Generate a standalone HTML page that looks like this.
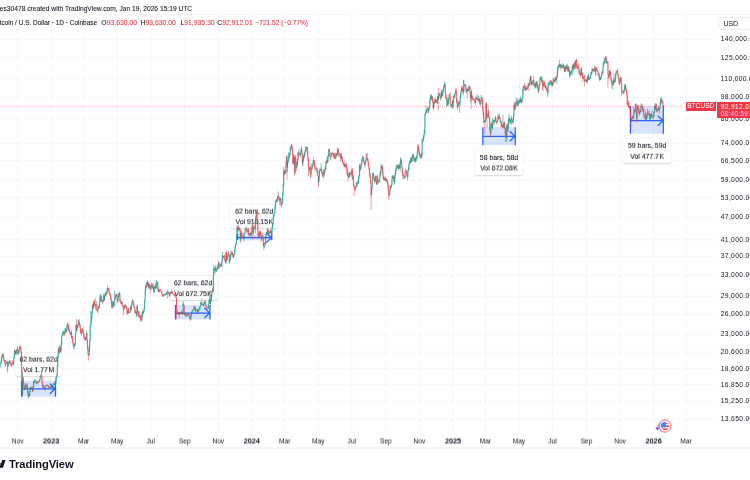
<!DOCTYPE html>
<html><head><meta charset="utf-8"><title>BTCUSD chart</title>
<style>
html,body{margin:0;padding:0;background:#fff;}
body{width:750px;height:480px;overflow:hidden;position:relative;font-family:"Liberation Sans",sans-serif;color:#131722;}
#w{position:absolute;left:0;top:0;width:750px;height:480px;overflow:hidden;filter:blur(0.3px);}
.c{position:absolute;left:0;top:0;width:750px;height:480px;}
.h1{-webkit-text-stroke:0.08px currentColor;position:absolute;left:-0.2px;top:4.4px;font-size:6.68px;line-height:9px;white-space:nowrap;color:#131722;}
.h2{-webkit-text-stroke:0.08px currentColor;position:absolute;top:18px;font-size:6.85px;line-height:9px;white-space:nowrap;color:#131722;}
.h2 i{font-style:normal;color:#f23645;}
.tl{filter:url(#d45);position:absolute;top:436.1px;width:40px;margin-left:-20px;text-align:center;font-size:6.6px;line-height:9px;color:#131722;}
.tl.b{font-weight:bold;font-size:7.3px;-webkit-text-stroke:0;}
.pl{position:absolute;left:720.8px;margin-top:-5.1px;font-size:6.7px;letter-spacing:0.33px;line-height:9px;white-space:nowrap;color:#131722;}
.usd{position:absolute;left:718px;top:17px;width:50px;height:13px;border:0.7px solid #ebedf2;border-radius:2.5px;box-sizing:border-box;font-size:7px;line-height:12px;padding-left:4.4px;color:#131722;}
.lb{position:absolute;background:#fff;border-radius:2.5px;box-shadow:0 0.4px 1.6px rgba(0,0,0,0.16);font-size:6.9px;}
.lt b{display:inline-block;width:0.5px;}
.lt{-webkit-text-stroke:0.08px currentColor;position:absolute;text-align:center;font-size:6.9px;line-height:9px;white-space:nowrap;color:#131722;}
.sym{position:absolute;left:685.5px;top:102.0px;width:30.5px;height:8.8px;background:#f23645;color:#fff;font-size:6.6px;line-height:8.8px;text-align:center;border-radius:1px 0 0 1px;-webkit-text-stroke:0;}
.cur{position:absolute;left:716.5px;top:102.0px;width:40px;height:16px;background:#f23645;color:#fff;font-size:6.7px;letter-spacing:0.33px;line-height:7.2px;padding:0.8px 0 0 4.2px;box-sizing:border-box;border-radius:0 0 0 1px;-webkit-text-stroke:0;}
.cur small{font-size:6.5px;letter-spacing:0.3px;color:rgba(255,255,255,0.75);display:block;}
.logo{position:absolute;left:9px;top:458px;font-size:11.2px;line-height:13px;font-weight:bold;color:#131722;letter-spacing:-0.1px;-webkit-text-stroke:0;}
.sep{position:absolute;left:0;width:750px;height:1.5px;background:#f5f6f8;}
</style></head><body><div id="w">
<svg width="0" height="0" style="position:absolute"><defs>
<filter id="d45" x="-5%" y="-40%" width="110%" height="180%"><feOffset dy="1" result="o"/><feComposite in="SourceGraphic" in2="o" operator="arithmetic" k2="0.55" k3="0.45"/></filter>
<filter id="d70" x="-5%" y="-40%" width="110%" height="180%"><feOffset dy="1" result="o"/><feComposite in="SourceGraphic" in2="o" operator="arithmetic" k2="0.3" k3="0.7"/></filter>
<filter id="d30" x="-5%" y="-40%" width="110%" height="180%"><feOffset dy="1" result="o"/><feComposite in="SourceGraphic" in2="o" operator="arithmetic" k2="0.7" k3="0.3"/></filter>
<filter id="q15" x="-5%" y="-40%" width="110%" height="180%"><feOffset dy="1" result="o"/><feComposite in="SourceGraphic" in2="o" operator="arithmetic" k2="0.85" k3="0.15"/></filter><filter id="q25" x="-5%" y="-40%" width="110%" height="180%"><feOffset dy="1" result="o"/><feComposite in="SourceGraphic" in2="o" operator="arithmetic" k2="0.75" k3="0.25"/></filter><filter id="q45" x="-5%" y="-40%" width="110%" height="180%"><feOffset dy="1" result="o"/><feComposite in="SourceGraphic" in2="o" operator="arithmetic" k2="0.55" k3="0.45"/></filter><filter id="q65" x="-5%" y="-40%" width="110%" height="180%"><feOffset dy="1" result="o"/><feComposite in="SourceGraphic" in2="o" operator="arithmetic" k2="0.35" k3="0.65"/></filter><filter id="q80" x="-5%" y="-40%" width="110%" height="180%"><feOffset dy="1" result="o"/><feComposite in="SourceGraphic" in2="o" operator="arithmetic" k2="0.20" k3="0.80"/></filter><filter id="q85" x="-5%" y="-40%" width="110%" height="180%"><feOffset dy="1" result="o"/><feComposite in="SourceGraphic" in2="o" operator="arithmetic" k2="0.15" k3="0.85"/></filter><filter id="q95" x="-5%" y="-40%" width="110%" height="180%"><feOffset dy="1" result="o"/><feComposite in="SourceGraphic" in2="o" operator="arithmetic" k2="0.05" k3="0.95"/></filter></defs></svg>
<svg class="c" viewBox="0 0 750 480">
<g stroke="#f1f3f7" stroke-width="0.7" fill="none"><path d="M17.7 14.5V432.5"/><path d="M51.2 14.5V432.5"/><path d="M83.6 14.5V432.5"/><path d="M117.2 14.5V432.5"/><path d="M150.7 14.5V432.5"/><path d="M184.8 14.5V432.5"/><path d="M218.3 14.5V432.5"/><path d="M251.8 14.5V432.5"/><path d="M284.8 14.5V432.5"/><path d="M318.3 14.5V432.5"/><path d="M351.8 14.5V432.5"/><path d="M385.9 14.5V432.5"/><path d="M419.4 14.5V432.5"/><path d="M453.0 14.5V432.5"/><path d="M485.4 14.5V432.5"/><path d="M518.9 14.5V432.5"/><path d="M552.4 14.5V432.5"/><path d="M586.5 14.5V432.5"/><path d="M620.0 14.5V432.5"/><path d="M653.6 14.5V432.5"/><path d="M686.0 14.5V432.5"/><path d="M0 39.2H715.5"/><path d="M0 57.7H715.5"/><path d="M0 78.6H715.5"/><path d="M0 97.5H715.5"/><path d="M0 118.8H715.5"/><path d="M0 143.3H715.5"/><path d="M0 160.8H715.5"/><path d="M0 180.3H715.5"/><path d="M0 197.8H715.5"/><path d="M0 217.4H715.5"/><path d="M0 239.7H715.5"/><path d="M0 256.5H715.5"/><path d="M0 275.2H715.5"/><path d="M0 296.2H715.5"/><path d="M0 314.1H715.5"/><path d="M0 334.1H715.5"/><path d="M0 352.1H715.5"/><path d="M0 368.7H715.5"/><path d="M0 384.9H715.5"/><path d="M0 401.2H715.5"/><path d="M0 419.3H715.5"/></g>
<g id="boxes"><rect x="21.5" y="380.8" width="34.0" height="15.9" fill="#2962ff" fill-opacity="0.18"/><path d="M21.5 380.8V396.7M55.5 380.8V396.7M21.5 388.8H55.5M49.9 383.8L55.2 388.8L49.9 393.8" stroke="#2962ff" stroke-width="1.25" fill="none"/><rect x="175.5" y="305" width="34.5" height="14.5" fill="#2962ff" fill-opacity="0.18"/><path d="M175.5 305V319.5M210 305V319.5M175.5 313H210M204.4 308L209.7 313L204.4 318" stroke="#2962ff" stroke-width="1.25" fill="none"/><rect x="237.5" y="233.6" width="34.3" height="6.7" fill="#2962ff" fill-opacity="0.18"/><path d="M237.5 233.6V240.3M271.8 233.6V240.3M237.5 237.7H271.8M266.2 232.7L271.5 237.7L266.2 242.7" stroke="#2962ff" stroke-width="1.25" fill="none"/><rect x="482.8" y="127.2" width="32.5" height="18.1" fill="#2962ff" fill-opacity="0.18"/><path d="M482.8 127.2V145.3M515.3 127.2V145.3M482.8 136.3H515.3M509.69999999999993 131.3L515.0 136.3L509.69999999999993 141.3" stroke="#2962ff" stroke-width="1.25" fill="none"/><rect x="630.4" y="106" width="32.9" height="27.7" fill="#2962ff" fill-opacity="0.18"/><path d="M630.4 106V133.7M663.3 106V133.7M630.4 120.7H663.3M657.6999999999999 115.7L663.0 120.7L657.6999999999999 125.7" stroke="#2962ff" stroke-width="1.25" fill="none"/></g>
</svg>
<div class="lb" style="left:14.7px;top:353.0px;width:47.8px;height:22.9px"></div><div class="lt" style="left:14.7px;width:47.8px;top:354px;filter:url(#q65)">62 bars, 62d</div><div class="lt" style="left:14.7px;width:47.8px;top:365px;filter:url(#q15)">Vol 1.77<b></b>M</div><div class="lb" style="left:168.8px;top:276.3px;width:48.6px;height:23.8px"></div><div class="lt" style="left:168.8px;width:48.6px;top:278px;filter:url(#q25)">62 bars, 62d</div><div class="lt" style="left:168.8px;width:48.6px;top:289px;filter:url(#q15)">Vol 672.75<b></b>K</div><div class="lb" style="left:230.3px;top:205.0px;width:48.0px;height:23.4px"></div><div class="lt" style="left:230.3px;width:48.0px;top:206px;filter:url(#q65)">62 bars, 62d</div><div class="lt" style="left:230.3px;width:48.0px;top:217px;filter:url(#q15)">Vol 918.15<b></b>K</div><div class="lb" style="left:474.7px;top:151.0px;width:48.6px;height:23.6px"></div><div class="lt" style="left:474.7px;width:48.6px;top:152px;filter:url(#q95)">58 bars, 58d</div><div class="lt" style="left:474.7px;width:48.6px;top:163px;filter:url(#q45)">Vol 672.08<b></b>K</div><div class="lb" style="left:623.3px;top:138.8px;width:47.7px;height:24.6px"></div><div class="lt" style="left:623.3px;width:47.7px;top:140px;filter:url(#q85)">59 bars, 59d</div><div class="lt" style="left:623.3px;width:47.7px;top:151px;filter:url(#q80)">Vol 477.7<b></b>K</div>
<svg class="c" viewBox="0 0 750 480" style="pointer-events:none">
<g id="candles"><g fill-opacity="0.82"><path fill="#089981" d="M0.34 361.03h0.6V367.82h-0.6ZM0.08 362.72h1.12V363.53h-1.12ZM0.89 357.43h0.6V363.89h-0.6ZM0.63 360.66h1.12V362.72h-1.12ZM1.44 355.37h0.6V361.05h-0.6ZM1.18 356.60h1.12V360.66h-1.12ZM1.99 353.20h0.6V358.84h-0.6ZM1.73 354.47h1.12V356.60h-1.12Z"/><path fill="#f23645" d="M2.54 354.34h0.6V356.94h-0.6ZM2.28 354.47h1.12V355.09h-1.12ZM3.08 352.88h0.6V358.30h-0.6ZM2.82 355.09h1.12V357.31h-1.12ZM3.63 356.93h0.6V361.10h-0.6ZM3.37 357.31h1.12V361.08h-1.12ZM4.18 360.54h0.6V361.94h-0.6ZM3.92 360.93h1.12V361.53h-1.12ZM4.73 360.21h0.6V366.65h-0.6ZM4.47 361.38h1.12V363.49h-1.12ZM5.28 359.78h0.6V366.15h-0.6ZM5.02 363.44h1.12V364.04h-1.12Z"/><path fill="#089981" d="M5.83 362.07h0.6V364.03h-0.6ZM5.57 363.36h1.12V363.99h-1.12ZM6.38 362.25h0.6V364.30h-0.6ZM6.12 362.34h1.12V363.36h-1.12ZM6.93 361.03h0.6V372.30h-0.6ZM6.67 361.81h1.12V362.41h-1.12Z"/><path fill="#f23645" d="M7.48 360.67h0.6V369.67h-0.6ZM7.22 361.87h1.12V366.04h-1.12Z"/><path fill="#089981" d="M8.03 363.33h0.6V366.86h-0.6ZM7.77 363.62h1.12V366.04h-1.12ZM8.58 361.21h0.6V363.82h-0.6ZM8.32 362.11h1.12V363.62h-1.12ZM9.13 360.32h0.6V363.70h-0.6ZM8.87 360.62h1.12V362.11h-1.12Z"/><path fill="#f23645" d="M9.68 360.59h0.6V364.00h-0.6ZM9.42 360.62h1.12V362.75h-1.12ZM10.23 361.76h0.6V365.38h-0.6ZM9.97 362.75h1.12V365.02h-1.12ZM10.78 362.81h0.6V366.03h-0.6ZM10.52 364.73h1.12V365.33h-1.12Z"/><path fill="#089981" d="M11.33 363.38h0.6V366.43h-0.6ZM11.07 363.99h1.12V365.05h-1.12ZM11.88 361.96h0.6V366.65h-0.6ZM11.62 363.31h1.12V363.99h-1.12Z"/><path fill="#f23645" d="M12.43 360.35h0.6V363.58h-0.6ZM12.17 363.12h1.12V363.72h-1.12Z"/><path fill="#089981" d="M12.98 361.33h0.6V365.55h-0.6ZM12.72 362.29h1.12V363.54h-1.12ZM13.53 356.47h0.6V364.35h-0.6ZM13.27 357.83h1.12V362.29h-1.12ZM14.08 348.76h0.6V358.92h-0.6ZM13.82 350.89h1.12V357.83h-1.12Z"/><path fill="#f23645" d="M14.63 350.12h0.6V353.45h-0.6ZM14.37 350.64h1.12V351.24h-1.12ZM15.18 350.82h0.6V355.32h-0.6ZM14.92 350.99h1.12V353.85h-1.12Z"/><path fill="#089981" d="M15.73 349.90h0.6V354.98h-0.6ZM15.47 350.50h1.12V353.85h-1.12Z"/><path fill="#f23645" d="M16.28 349.05h0.6V353.44h-0.6ZM16.02 350.39h1.12V350.99h-1.12Z"/><path fill="#089981" d="M16.82 348.52h0.6V350.91h-0.6ZM16.56 349.58h1.12V350.87h-1.12Z"/><path fill="#f23645" d="M17.37 345.95h0.6V355.05h-0.6ZM17.11 349.58h1.12V353.03h-1.12Z"/><path fill="#089981" d="M17.92 351.60h0.6V354.07h-0.6ZM17.66 352.17h1.12V353.03h-1.12ZM18.47 349.59h0.6V354.95h-0.6ZM18.21 350.28h1.12V352.17h-1.12ZM19.02 346.72h0.6V352.44h-0.6ZM18.76 347.77h1.12V350.28h-1.12ZM19.57 345.47h0.6V348.65h-0.6ZM19.31 346.62h1.12V347.77h-1.12Z"/><path fill="#f23645" d="M20.12 346.28h0.6V349.57h-0.6ZM19.86 346.62h1.12V348.85h-1.12ZM20.67 346.65h0.6V354.52h-0.6ZM20.41 348.85h1.12V352.08h-1.12ZM21.22 351.68h0.6V381.52h-0.6ZM20.96 352.08h1.12V369.19h-1.12ZM21.77 368.75h0.6V397.46h-0.6ZM21.51 369.19h1.12V394.35h-1.12Z"/><path fill="#089981" d="M22.32 373.20h0.6V395.38h-0.6ZM22.06 377.77h1.12V394.35h-1.12Z"/><path fill="#f23645" d="M22.87 376.70h0.6V383.51h-0.6ZM22.61 377.77h1.12V382.95h-1.12ZM23.42 380.34h0.6V389.01h-0.6ZM23.16 382.95h1.12V385.71h-1.12ZM23.97 385.58h0.6V389.85h-0.6ZM23.71 385.71h1.12V389.79h-1.12Z"/><path fill="#089981" d="M24.52 387.48h0.6V389.89h-0.6ZM24.26 389.28h1.12V389.88h-1.12ZM25.07 382.54h0.6V389.49h-0.6ZM24.81 384.39h1.12V389.37h-1.12Z"/><path fill="#f23645" d="M25.62 383.60h0.6V387.09h-0.6ZM25.36 384.39h1.12V387.03h-1.12Z"/><path fill="#089981" d="M26.17 386.45h0.6V388.48h-0.6ZM25.91 386.68h1.12V387.28h-1.12ZM26.72 383.93h0.6V388.03h-0.6ZM26.46 386.33h1.12V386.93h-1.12Z"/><path fill="#f23645" d="M27.27 383.28h0.6V393.44h-0.6ZM27.01 386.34h1.12V393.12h-1.12ZM27.82 391.83h0.6V397.62h-0.6ZM27.56 393.12h1.12V395.89h-1.12Z"/><path fill="#089981" d="M28.37 390.80h0.6V398.72h-0.6ZM28.11 395.34h1.12V395.94h-1.12Z"/><path fill="#f23645" d="M28.92 393.39h0.6V396.06h-0.6ZM28.66 395.30h1.12V395.90h-1.12Z"/><path fill="#089981" d="M29.47 389.45h0.6V396.99h-0.6ZM29.21 391.85h1.12V395.83h-1.12ZM30.02 387.06h0.6V392.07h-0.6ZM29.76 387.32h1.12V391.85h-1.12Z"/><path fill="#f23645" d="M30.56 387.23h0.6V389.28h-0.6ZM30.30 387.32h1.12V389.24h-1.12Z"/><path fill="#089981" d="M31.11 387.19h0.6V389.31h-0.6ZM30.85 387.73h1.12V389.24h-1.12ZM31.66 385.91h0.6V387.75h-0.6ZM31.40 387.41h1.12V388.01h-1.12Z"/><path fill="#f23645" d="M32.21 387.02h0.6V391.78h-0.6ZM31.95 387.68h1.12V391.30h-1.12Z"/><path fill="#089981" d="M32.76 386.10h0.6V391.41h-0.6ZM32.50 386.56h1.12V391.30h-1.12ZM33.31 380.39h0.6V387.34h-0.6ZM33.05 382.00h1.12V386.56h-1.12ZM33.86 380.82h0.6V383.05h-0.6ZM33.60 381.53h1.12V382.13h-1.12ZM34.41 378.98h0.6V383.06h-0.6ZM34.15 380.75h1.12V381.66h-1.12Z"/><path fill="#f23645" d="M34.96 380.48h0.6V381.55h-0.6ZM34.70 380.62h1.12V381.22h-1.12ZM35.51 379.70h0.6V382.79h-0.6ZM35.25 381.08h1.12V381.68h-1.12ZM36.06 381.23h0.6V384.49h-0.6ZM35.80 381.68h1.12V383.91h-1.12Z"/><path fill="#089981" d="M36.61 381.97h0.6V384.16h-0.6ZM36.35 382.24h1.12V383.91h-1.12ZM37.16 380.97h0.6V383.69h-0.6ZM36.90 381.80h1.12V382.40h-1.12ZM37.71 380.75h0.6V382.08h-0.6ZM37.45 381.44h1.12V382.04h-1.12Z"/><path fill="#f23645" d="M38.26 381.38h0.6V383.34h-0.6ZM38.00 381.46h1.12V382.06h-1.12Z"/><path fill="#089981" d="M38.81 379.89h0.6V382.23h-0.6ZM38.55 380.94h1.12V382.00h-1.12ZM39.36 379.05h0.6V381.16h-0.6ZM39.10 379.39h1.12V380.94h-1.12ZM39.91 375.72h0.6V379.76h-0.6ZM39.65 375.76h1.12V379.39h-1.12Z"/><path fill="#f23645" d="M40.46 374.78h0.6V376.32h-0.6ZM40.20 375.54h1.12V376.14h-1.12Z"/><path fill="#089981" d="M41.01 370.51h0.6V376.83h-0.6ZM40.75 375.62h1.12V376.22h-1.12Z"/><path fill="#f23645" d="M41.56 375.53h0.6V383.24h-0.6ZM41.30 375.92h1.12V382.34h-1.12ZM42.11 381.31h0.6V387.49h-0.6ZM41.85 382.34h1.12V386.83h-1.12Z"/><path fill="#089981" d="M42.66 384.47h0.6V388.20h-0.6ZM42.40 385.88h1.12V386.83h-1.12Z"/><path fill="#f23645" d="M43.21 385.28h0.6V387.46h-0.6ZM42.95 385.60h1.12V386.20h-1.12ZM43.76 385.01h0.6V389.19h-0.6ZM43.50 385.92h1.12V388.80h-1.12ZM44.30 388.48h0.6V389.82h-0.6ZM44.04 388.80h1.12V389.67h-1.12Z"/><path fill="#089981" d="M44.85 387.13h0.6V390.45h-0.6ZM44.59 387.25h1.12V389.67h-1.12ZM45.40 384.98h0.6V388.18h-0.6ZM45.14 386.09h1.12V387.25h-1.12ZM45.95 384.33h0.6V386.50h-0.6ZM45.69 385.36h1.12V386.09h-1.12Z"/><path fill="#f23645" d="M46.50 384.91h0.6V385.67h-0.6ZM46.24 385.08h1.12V385.68h-1.12Z"/><path fill="#089981" d="M47.05 385.10h0.6V385.42h-0.6ZM46.79 385.05h1.12V385.65h-1.12Z"/><path fill="#f23645" d="M47.60 384.80h0.6V386.60h-0.6ZM47.34 385.30h1.12V386.27h-1.12ZM48.15 385.57h0.6V387.72h-0.6ZM47.89 386.27h1.12V387.15h-1.12ZM48.70 387.07h0.6V388.05h-0.6ZM48.44 387.15h1.12V387.81h-1.12Z"/><path fill="#089981" d="M49.25 385.86h0.6V388.25h-0.6ZM48.99 387.01h1.12V387.81h-1.12Z"/><path fill="#f23645" d="M49.80 386.52h0.6V388.18h-0.6ZM49.54 386.86h1.12V387.46h-1.12Z"/><path fill="#089981" d="M50.35 386.44h0.6V387.93h-0.6ZM50.09 386.63h1.12V387.32h-1.12ZM50.90 385.09h0.6V387.39h-0.6ZM50.64 385.92h1.12V386.63h-1.12Z"/><path fill="#f23645" d="M51.45 385.77h0.6V388.80h-0.6ZM51.19 385.92h1.12V387.62h-1.12Z"/><path fill="#089981" d="M52.00 385.56h0.6V388.28h-0.6ZM51.74 386.06h1.12V387.62h-1.12ZM52.55 383.93h0.6V386.56h-0.6ZM52.29 384.88h1.12V386.06h-1.12ZM53.10 383.20h0.6V385.09h-0.6ZM52.84 383.32h1.12V384.88h-1.12Z"/><path fill="#f23645" d="M53.65 383.07h0.6V384.81h-0.6ZM53.39 383.32h1.12V384.62h-1.12Z"/><path fill="#089981" d="M54.20 383.98h0.6V385.12h-0.6ZM53.94 384.20h1.12V384.80h-1.12ZM54.75 382.47h0.6V384.55h-0.6ZM54.49 382.47h1.12V384.39h-1.12ZM55.30 376.92h0.6V384.46h-0.6ZM55.04 381.53h1.12V382.47h-1.12ZM55.85 378.68h0.6V384.59h-0.6ZM55.59 378.73h1.12V381.53h-1.12ZM56.40 374.39h0.6V379.52h-0.6ZM56.14 374.55h1.12V378.73h-1.12ZM56.95 364.76h0.6V376.40h-0.6ZM56.69 366.57h1.12V374.55h-1.12ZM57.50 354.70h0.6V366.84h-0.6ZM57.24 357.31h1.12V366.57h-1.12ZM58.04 347.39h0.6V357.56h-0.6ZM57.78 349.32h1.12V357.31h-1.12Z"/><path fill="#f23645" d="M58.59 348.18h0.6V352.80h-0.6ZM58.33 349.32h1.12V352.17h-1.12Z"/><path fill="#089981" d="M59.14 345.51h0.6V354.04h-0.6ZM58.88 347.39h1.12V352.17h-1.12Z"/><path fill="#f23645" d="M59.69 345.86h0.6V351.05h-0.6ZM59.43 347.39h1.12V348.42h-1.12ZM60.24 346.97h0.6V352.26h-0.6ZM59.98 348.42h1.12V351.28h-1.12Z"/><path fill="#089981" d="M60.79 341.38h0.6V352.39h-0.6ZM60.53 344.18h1.12V351.28h-1.12ZM61.34 335.09h0.6V345.57h-0.6ZM61.08 336.23h1.12V344.18h-1.12ZM61.89 331.62h0.6V336.79h-0.6ZM61.63 335.51h1.12V336.23h-1.12ZM62.44 334.42h0.6V335.80h-0.6ZM62.18 334.88h1.12V335.51h-1.12ZM62.99 331.32h0.6V335.24h-0.6ZM62.73 331.56h1.12V334.88h-1.12Z"/><path fill="#f23645" d="M63.54 330.29h0.6V334.61h-0.6ZM63.28 331.56h1.12V332.97h-1.12ZM64.09 331.81h0.6V336.31h-0.6ZM63.83 332.97h1.12V333.73h-1.12Z"/><path fill="#089981" d="M64.64 328.12h0.6V333.93h-0.6ZM64.38 330.53h1.12V333.73h-1.12ZM65.19 328.11h0.6V333.34h-0.6ZM64.93 329.96h1.12V330.56h-1.12Z"/><path fill="#f23645" d="M65.74 329.42h0.6V331.85h-0.6ZM65.48 329.98h1.12V331.80h-1.12Z"/><path fill="#089981" d="M66.29 326.42h0.6V332.68h-0.6ZM66.03 328.85h1.12V331.80h-1.12ZM66.84 323.60h0.6V330.69h-0.6ZM66.58 324.82h1.12V328.85h-1.12Z"/><path fill="#f23645" d="M67.39 322.14h0.6V327.26h-0.6ZM67.13 324.82h1.12V325.79h-1.12ZM67.94 323.42h0.6V330.08h-0.6ZM67.68 325.79h1.12V329.19h-1.12ZM68.49 325.45h0.6V330.90h-0.6ZM68.23 329.19h1.12V330.57h-1.12ZM69.04 328.38h0.6V333.04h-0.6ZM68.78 330.57h1.12V331.71h-1.12ZM69.59 330.37h0.6V333.82h-0.6ZM69.33 331.71h1.12V332.88h-1.12ZM70.14 332.06h0.6V334.96h-0.6ZM69.88 332.88h1.12V334.44h-1.12Z"/><path fill="#089981" d="M70.69 331.77h0.6V335.39h-0.6ZM70.43 333.11h1.12V334.44h-1.12Z"/><path fill="#f23645" d="M71.24 330.01h0.6V338.69h-0.6ZM70.98 333.11h1.12V338.13h-1.12Z"/><path fill="#089981" d="M71.78 336.37h0.6V338.16h-0.6ZM71.52 337.18h1.12V338.13h-1.12Z"/><path fill="#f23645" d="M72.33 335.68h0.6V343.83h-0.6ZM72.07 337.18h1.12V342.83h-1.12ZM72.88 342.69h0.6V346.60h-0.6ZM72.62 342.83h1.12V346.08h-1.12Z"/><path fill="#089981" d="M73.43 344.66h0.6V348.82h-0.6ZM73.17 345.56h1.12V346.16h-1.12ZM73.98 343.45h0.6V349.16h-0.6ZM73.72 343.88h1.12V345.63h-1.12ZM74.53 342.09h0.6V345.86h-0.6ZM74.27 342.83h1.12V343.88h-1.12ZM75.08 332.71h0.6V345.87h-0.6ZM74.82 333.71h1.12V342.83h-1.12ZM75.63 324.80h0.6V333.90h-0.6ZM75.37 325.11h1.12V333.71h-1.12Z"/><path fill="#f23645" d="M76.18 318.85h0.6V331.03h-0.6ZM75.92 325.11h1.12V330.23h-1.12Z"/><path fill="#089981" d="M76.73 325.91h0.6V331.13h-0.6ZM76.47 328.18h1.12V330.23h-1.12ZM77.28 324.31h0.6V328.52h-0.6ZM77.02 325.02h1.12V328.18h-1.12ZM77.83 323.55h0.6V327.46h-0.6ZM77.57 323.83h1.12V325.02h-1.12ZM78.38 319.69h0.6V324.53h-0.6ZM78.12 321.46h1.12V323.83h-1.12Z"/><path fill="#f23645" d="M78.93 319.17h0.6V325.39h-0.6ZM78.67 321.46h1.12V324.11h-1.12ZM79.48 322.71h0.6V328.09h-0.6ZM79.22 324.11h1.12V326.63h-1.12ZM80.03 324.84h0.6V332.97h-0.6ZM79.77 326.63h1.12V330.65h-1.12ZM80.58 329.08h0.6V334.19h-0.6ZM80.32 330.65h1.12V332.67h-1.12ZM81.13 331.69h0.6V335.44h-0.6ZM80.87 332.48h1.12V333.08h-1.12Z"/><path fill="#089981" d="M81.68 328.09h0.6V333.98h-0.6ZM81.42 329.35h1.12V332.90h-1.12Z"/><path fill="#f23645" d="M82.23 328.77h0.6V330.81h-0.6ZM81.97 329.35h1.12V330.20h-1.12ZM82.78 326.80h0.6V333.42h-0.6ZM82.52 330.20h1.12V333.02h-1.12ZM83.33 330.44h0.6V337.92h-0.6ZM83.07 333.02h1.12V336.38h-1.12ZM83.88 334.34h0.6V339.98h-0.6ZM83.62 336.38h1.12V338.80h-1.12Z"/><path fill="#089981" d="M84.43 337.32h0.6V339.72h-0.6ZM84.17 338.48h1.12V339.08h-1.12Z"/><path fill="#f23645" d="M84.98 336.58h0.6V340.93h-0.6ZM84.72 338.77h1.12V339.48h-1.12Z"/><path fill="#089981" d="M85.52 337.28h0.6V340.02h-0.6ZM85.26 338.30h1.12V339.48h-1.12ZM86.07 330.73h0.6V339.19h-0.6ZM85.81 333.33h1.12V338.30h-1.12Z"/><path fill="#f23645" d="M86.62 332.40h0.6V341.53h-0.6ZM86.36 333.33h1.12V339.86h-1.12ZM87.17 339.00h0.6V350.02h-0.6ZM86.91 339.86h1.12V348.75h-1.12ZM87.72 347.55h0.6V355.85h-0.6ZM87.46 348.75h1.12V354.07h-1.12ZM88.27 354.07h0.6V360.45h-0.6ZM88.01 354.07h1.12V355.28h-1.12Z"/><path fill="#089981" d="M88.82 345.30h0.6V355.57h-0.6ZM88.56 347.55h1.12V355.28h-1.12ZM89.37 338.58h0.6V352.20h-0.6ZM89.11 340.23h1.12V347.55h-1.12ZM89.92 325.49h0.6V342.31h-0.6ZM89.66 325.78h1.12V340.23h-1.12ZM90.47 310.96h0.6V327.37h-0.6ZM90.21 322.12h1.12V325.78h-1.12ZM91.02 315.56h0.6V324.04h-0.6ZM90.76 318.05h1.12V322.12h-1.12ZM91.57 310.40h0.6V319.84h-0.6ZM91.31 311.14h1.12V318.05h-1.12ZM92.12 303.90h0.6V313.77h-0.6ZM91.86 305.21h1.12V311.14h-1.12Z"/><path fill="#f23645" d="M92.67 304.53h0.6V309.88h-0.6ZM92.41 305.21h1.12V307.45h-1.12Z"/><path fill="#089981" d="M93.22 301.79h0.6V308.43h-0.6ZM92.96 301.97h1.12V307.45h-1.12Z"/><path fill="#f23645" d="M93.77 300.17h0.6V305.69h-0.6ZM93.51 301.77h1.12V302.37h-1.12ZM94.32 299.98h0.6V305.37h-0.6ZM94.06 302.16h1.12V304.73h-1.12ZM94.87 297.38h0.6V308.37h-0.6ZM94.61 304.73h1.12V306.11h-1.12Z"/><path fill="#089981" d="M95.42 303.78h0.6V309.67h-0.6ZM95.16 305.54h1.12V306.14h-1.12ZM95.97 301.24h0.6V305.93h-0.6ZM95.71 304.61h1.12V305.57h-1.12Z"/><path fill="#f23645" d="M96.52 304.16h0.6V310.88h-0.6ZM96.26 304.61h1.12V310.62h-1.12ZM97.07 308.93h0.6V312.54h-0.6ZM96.81 310.39h1.12V310.99h-1.12Z"/><path fill="#089981" d="M97.62 306.86h0.6V313.09h-0.6ZM97.36 307.01h1.12V310.76h-1.12Z"/><path fill="#f23645" d="M98.17 305.75h0.6V308.84h-0.6ZM97.91 307.01h1.12V308.04h-1.12Z"/><path fill="#089981" d="M98.72 305.13h0.6V308.49h-0.6ZM98.46 306.19h1.12V308.04h-1.12ZM99.26 295.40h0.6V308.14h-0.6ZM99.00 301.68h1.12V306.19h-1.12ZM99.81 298.79h0.6V302.28h-0.6ZM99.55 299.55h1.12V301.68h-1.12ZM100.36 293.53h0.6V300.24h-0.6ZM100.10 295.76h1.12V299.55h-1.12Z"/><path fill="#f23645" d="M100.91 295.21h0.6V301.84h-0.6ZM100.65 295.76h1.12V300.31h-1.12ZM101.46 298.72h0.6V302.00h-0.6ZM101.20 300.31h1.12V301.34h-1.12ZM102.01 299.67h0.6V303.95h-0.6ZM101.75 301.34h1.12V302.34h-1.12Z"/><path fill="#089981" d="M102.56 300.50h0.6V302.83h-0.6ZM102.30 300.81h1.12V302.34h-1.12ZM103.11 293.33h0.6V301.91h-0.6ZM102.85 296.54h1.12V300.81h-1.12Z"/><path fill="#f23645" d="M103.66 295.10h0.6V300.65h-0.6ZM103.40 296.54h1.12V299.66h-1.12Z"/><path fill="#089981" d="M104.21 293.28h0.6V300.71h-0.6ZM103.95 295.40h1.12V299.66h-1.12Z"/><path fill="#f23645" d="M104.76 295.19h0.6V296.73h-0.6ZM104.50 295.40h1.12V296.10h-1.12Z"/><path fill="#089981" d="M105.31 292.43h0.6V296.70h-0.6ZM105.05 292.63h1.12V296.10h-1.12Z"/><path fill="#f23645" d="M105.86 291.60h0.6V294.71h-0.6ZM105.60 292.63h1.12V294.11h-1.12Z"/><path fill="#089981" d="M106.41 291.52h0.6V294.81h-0.6ZM106.15 292.33h1.12V294.11h-1.12ZM106.96 287.87h0.6V293.06h-0.6ZM106.70 288.55h1.12V292.33h-1.12ZM107.51 285.36h0.6V290.60h-0.6ZM107.25 287.98h1.12V288.58h-1.12Z"/><path fill="#f23645" d="M108.06 287.98h0.6V290.95h-0.6ZM107.80 288.01h1.12V290.76h-1.12ZM108.61 289.83h0.6V293.31h-0.6ZM108.35 290.76h1.12V292.84h-1.12ZM109.16 291.47h0.6V295.37h-0.6ZM108.90 292.84h1.12V293.73h-1.12ZM109.71 292.95h0.6V295.98h-0.6ZM109.45 293.73h1.12V295.33h-1.12ZM110.26 294.32h0.6V299.64h-0.6ZM110.00 295.33h1.12V297.38h-1.12ZM110.81 296.30h0.6V303.67h-0.6ZM110.55 297.38h1.12V301.42h-1.12ZM111.36 300.58h0.6V308.27h-0.6ZM111.10 301.42h1.12V306.41h-1.12ZM111.91 305.17h0.6V308.87h-0.6ZM111.65 306.41h1.12V307.34h-1.12Z"/><path fill="#089981" d="M112.46 300.47h0.6V307.49h-0.6ZM112.20 302.31h1.12V307.34h-1.12Z"/><path fill="#f23645" d="M113.00 302.15h0.6V308.07h-0.6ZM112.74 302.31h1.12V304.92h-1.12Z"/><path fill="#089981" d="M113.55 300.91h0.6V305.45h-0.6ZM113.29 301.13h1.12V304.92h-1.12ZM114.10 290.71h0.6V306.41h-0.6ZM113.84 299.66h1.12V301.13h-1.12ZM114.65 298.07h0.6V299.89h-0.6ZM114.39 298.49h1.12V299.66h-1.12ZM115.20 294.02h0.6V298.91h-0.6ZM114.94 296.19h1.12V298.49h-1.12ZM115.75 294.24h0.6V298.06h-0.6ZM115.49 294.85h1.12V296.19h-1.12Z"/><path fill="#f23645" d="M116.30 293.57h0.6V297.33h-0.6ZM116.04 294.85h1.12V296.00h-1.12ZM116.85 293.68h0.6V303.13h-0.6ZM116.59 296.00h1.12V301.39h-1.12Z"/><path fill="#089981" d="M117.40 299.56h0.6V302.72h-0.6ZM117.14 300.87h1.12V301.47h-1.12ZM117.95 294.02h0.6V301.53h-0.6ZM117.69 296.35h1.12V300.95h-1.12ZM118.50 292.50h0.6V296.99h-0.6ZM118.24 294.84h1.12V296.35h-1.12ZM119.05 291.62h0.6V296.91h-0.6ZM118.79 293.46h1.12V294.84h-1.12Z"/><path fill="#f23645" d="M119.60 293.05h0.6V302.58h-0.6ZM119.34 293.46h1.12V300.12h-1.12ZM120.15 299.13h0.6V302.36h-0.6ZM119.89 300.12h1.12V301.42h-1.12ZM120.70 301.08h0.6V303.80h-0.6ZM120.44 301.42h1.12V303.73h-1.12Z"/><path fill="#089981" d="M121.25 301.21h0.6V304.18h-0.6ZM120.99 301.90h1.12V303.73h-1.12Z"/><path fill="#f23645" d="M121.80 301.88h0.6V305.49h-0.6ZM121.54 301.90h1.12V304.79h-1.12ZM122.35 304.64h0.6V307.34h-0.6ZM122.09 304.79h1.12V305.84h-1.12ZM122.90 305.84h0.6V315.33h-0.6ZM122.64 305.84h1.12V309.12h-1.12Z"/><path fill="#089981" d="M123.45 307.25h0.6V311.58h-0.6ZM123.19 307.88h1.12V309.12h-1.12ZM124.00 304.91h0.6V309.49h-0.6ZM123.74 305.01h1.12V307.88h-1.12Z"/><path fill="#f23645" d="M124.55 304.69h0.6V308.25h-0.6ZM124.29 305.01h1.12V307.01h-1.12Z"/><path fill="#089981" d="M125.10 304.01h0.6V307.95h-0.6ZM124.84 306.10h1.12V307.01h-1.12Z"/><path fill="#f23645" d="M125.65 305.17h0.6V306.81h-0.6ZM125.39 305.91h1.12V306.51h-1.12ZM126.20 306.20h0.6V310.00h-0.6ZM125.94 306.32h1.12V308.82h-1.12ZM126.74 307.45h0.6V314.77h-0.6ZM126.48 308.82h1.12V313.05h-1.12Z"/><path fill="#089981" d="M127.29 310.34h0.6V314.26h-0.6ZM127.03 310.65h1.12V313.05h-1.12Z"/><path fill="#f23645" d="M127.84 307.99h0.6V312.96h-0.6ZM127.58 310.63h1.12V311.23h-1.12ZM128.39 308.08h0.6V314.22h-0.6ZM128.13 311.21h1.12V312.75h-1.12Z"/><path fill="#089981" d="M128.94 312.23h0.6V313.02h-0.6ZM128.68 312.24h1.12V312.84h-1.12ZM129.49 311.69h0.6V312.68h-0.6ZM129.23 311.81h1.12V312.41h-1.12ZM130.04 306.11h0.6V313.23h-0.6ZM129.78 307.85h1.12V311.89h-1.12Z"/><path fill="#f23645" d="M130.59 305.71h0.6V309.71h-0.6ZM130.33 307.85h1.12V308.74h-1.12Z"/><path fill="#089981" d="M131.14 304.34h0.6V310.91h-0.6ZM130.88 305.41h1.12V308.74h-1.12ZM131.69 301.04h0.6V305.74h-0.6ZM131.43 301.39h1.12V305.41h-1.12ZM132.24 299.35h0.6V302.83h-0.6ZM131.98 300.66h1.12V301.39h-1.12Z"/><path fill="#f23645" d="M132.79 299.91h0.6V303.63h-0.6ZM132.53 300.66h1.12V303.13h-1.12ZM133.34 302.20h0.6V307.32h-0.6ZM133.08 303.13h1.12V306.71h-1.12ZM133.89 305.57h0.6V308.46h-0.6ZM133.63 306.71h1.12V307.45h-1.12ZM134.44 307.42h0.6V313.45h-0.6ZM134.18 307.45h1.12V309.96h-1.12ZM134.99 309.82h0.6V313.73h-0.6ZM134.73 309.96h1.12V312.45h-1.12Z"/><path fill="#089981" d="M135.54 310.55h0.6V312.99h-0.6ZM135.28 312.12h1.12V312.72h-1.12Z"/><path fill="#f23645" d="M136.09 311.43h0.6V316.17h-0.6ZM135.83 312.40h1.12V315.65h-1.12Z"/><path fill="#089981" d="M136.64 304.80h0.6V317.13h-0.6ZM136.38 306.41h1.12V315.65h-1.12Z"/><path fill="#f23645" d="M137.19 304.74h0.6V313.22h-0.6ZM136.93 306.41h1.12V311.24h-1.12ZM137.74 310.73h0.6V313.53h-0.6ZM137.48 311.24h1.12V312.33h-1.12ZM138.29 311.28h0.6V317.32h-0.6ZM138.03 312.33h1.12V316.29h-1.12Z"/><path fill="#089981" d="M138.84 310.96h0.6V318.20h-0.6ZM138.58 315.02h1.12V316.29h-1.12Z"/><path fill="#f23645" d="M139.39 314.98h0.6V317.40h-0.6ZM139.13 315.02h1.12V315.86h-1.12ZM139.94 315.03h0.6V319.75h-0.6ZM139.68 315.86h1.12V318.51h-1.12ZM140.48 316.64h0.6V321.48h-0.6ZM140.22 318.51h1.12V319.99h-1.12Z"/><path fill="#089981" d="M141.03 313.76h0.6V321.79h-0.6ZM140.77 319.61h1.12V320.21h-1.12ZM141.58 315.49h0.6V320.58h-0.6ZM141.32 317.08h1.12V319.82h-1.12ZM142.13 309.75h0.6V317.57h-0.6ZM141.87 311.89h1.12V317.08h-1.12Z"/><path fill="#f23645" d="M142.68 310.83h0.6V314.12h-0.6ZM142.42 311.89h1.12V313.18h-1.12Z"/><path fill="#089981" d="M143.23 309.97h0.6V313.24h-0.6ZM142.97 311.59h1.12V313.18h-1.12ZM143.78 308.04h0.6V311.78h-0.6ZM143.52 308.82h1.12V311.59h-1.12ZM144.33 299.81h0.6V309.40h-0.6ZM144.07 300.23h1.12V308.82h-1.12ZM144.88 287.04h0.6V301.15h-0.6ZM144.62 290.71h1.12V300.23h-1.12ZM145.43 284.50h0.6V292.03h-0.6ZM145.17 285.85h1.12V290.71h-1.12Z"/><path fill="#f23645" d="M145.98 283.27h0.6V288.16h-0.6ZM145.72 285.85h1.12V286.95h-1.12Z"/><path fill="#089981" d="M146.53 281.51h0.6V287.52h-0.6ZM146.27 282.01h1.12V286.95h-1.12Z"/><path fill="#f23645" d="M147.08 280.34h0.6V285.02h-0.6ZM146.82 282.01h1.12V284.27h-1.12ZM147.63 282.64h0.6V286.97h-0.6ZM147.37 284.06h1.12V284.66h-1.12ZM148.18 281.41h0.6V289.03h-0.6ZM147.92 284.46h1.12V286.95h-1.12Z"/><path fill="#089981" d="M148.73 283.71h0.6V287.78h-0.6ZM148.47 284.45h1.12V286.95h-1.12Z"/><path fill="#f23645" d="M149.28 284.24h0.6V288.78h-0.6ZM149.02 284.45h1.12V287.96h-1.12ZM149.83 284.05h0.6V293.46h-0.6ZM149.57 287.82h1.12V288.42h-1.12Z"/><path fill="#089981" d="M150.38 285.94h0.6V289.96h-0.6ZM150.12 286.84h1.12V288.28h-1.12ZM150.93 284.82h0.6V290.23h-0.6ZM150.67 284.97h1.12V286.84h-1.12ZM151.48 282.40h0.6V286.90h-0.6ZM151.22 284.47h1.12V285.07h-1.12Z"/><path fill="#f23645" d="M152.03 284.34h0.6V288.66h-0.6ZM151.77 284.57h1.12V287.99h-1.12Z"/><path fill="#089981" d="M152.58 286.93h0.6V288.71h-0.6ZM152.32 287.34h1.12V287.99h-1.12Z"/><path fill="#f23645" d="M153.13 282.75h0.6V291.43h-0.6ZM152.87 287.34h1.12V291.26h-1.12Z"/><path fill="#089981" d="M153.68 289.00h0.6V293.85h-0.6ZM153.42 289.24h1.12V291.26h-1.12ZM154.22 285.92h0.6V292.46h-0.6ZM153.96 286.00h1.12V289.24h-1.12ZM154.77 282.86h0.6V288.94h-0.6ZM154.51 285.64h1.12V286.24h-1.12Z"/><path fill="#f23645" d="M155.32 284.10h0.6V288.77h-0.6ZM155.06 285.89h1.12V288.55h-1.12Z"/><path fill="#089981" d="M155.87 286.94h0.6V288.79h-0.6ZM155.61 287.17h1.12V288.55h-1.12ZM156.42 280.30h0.6V287.28h-0.6ZM156.16 281.54h1.12V287.17h-1.12Z"/><path fill="#f23645" d="M156.97 281.20h0.6V285.82h-0.6ZM156.71 281.54h1.12V283.01h-1.12ZM157.52 282.10h0.6V289.85h-0.6ZM157.26 283.01h1.12V289.09h-1.12ZM158.07 287.67h0.6V292.01h-0.6ZM157.81 289.09h1.12V291.97h-1.12Z"/><path fill="#089981" d="M158.62 290.34h0.6V292.77h-0.6ZM158.36 290.65h1.12V291.97h-1.12ZM159.17 289.06h0.6V292.33h-0.6ZM158.91 289.90h1.12V290.65h-1.12Z"/><path fill="#f23645" d="M159.72 289.48h0.6V290.95h-0.6ZM159.46 289.90h1.12V290.90h-1.12ZM160.27 288.99h0.6V291.01h-0.6ZM160.01 290.64h1.12V291.24h-1.12ZM160.82 290.88h0.6V292.88h-0.6ZM160.56 290.99h1.12V291.80h-1.12ZM161.37 291.70h0.6V293.47h-0.6ZM161.11 291.80h1.12V293.35h-1.12ZM161.92 293.07h0.6V295.78h-0.6ZM161.66 293.35h1.12V295.33h-1.12ZM162.47 294.22h0.6V297.01h-0.6ZM162.21 295.33h1.12V296.26h-1.12Z"/><path fill="#089981" d="M163.02 294.13h0.6V296.52h-0.6ZM162.76 295.40h1.12V296.26h-1.12ZM163.57 294.74h0.6V296.06h-0.6ZM163.31 294.76h1.12V295.40h-1.12ZM164.12 293.79h0.6V295.80h-0.6ZM163.86 294.34h1.12V294.94h-1.12ZM164.67 293.68h0.6V295.32h-0.6ZM164.41 294.01h1.12V294.61h-1.12Z"/><path fill="#f23645" d="M165.22 293.06h0.6V295.27h-0.6ZM164.96 294.03h1.12V294.63h-1.12Z"/><path fill="#089981" d="M165.77 292.40h0.6V295.10h-0.6ZM165.51 293.21h1.12V294.57h-1.12ZM166.32 292.50h0.6V294.19h-0.6ZM166.06 292.83h1.12V293.43h-1.12ZM166.87 290.29h0.6V294.29h-0.6ZM166.61 291.15h1.12V293.06h-1.12Z"/><path fill="#f23645" d="M167.42 291.15h0.6V298.51h-0.6ZM167.16 291.15h1.12V292.35h-1.12Z"/><path fill="#089981" d="M167.96 292.07h0.6V294.23h-0.6ZM167.70 292.04h1.12V292.64h-1.12Z"/><path fill="#f23645" d="M168.51 291.58h0.6V293.80h-0.6ZM168.25 292.32h1.12V293.40h-1.12ZM169.06 292.07h0.6V296.47h-0.6ZM168.80 293.40h1.12V295.97h-1.12Z"/><path fill="#089981" d="M169.61 292.53h0.6V297.36h-0.6ZM169.35 293.41h1.12V295.97h-1.12ZM170.16 291.79h0.6V293.92h-0.6ZM169.90 291.99h1.12V293.41h-1.12Z"/><path fill="#f23645" d="M170.71 291.61h0.6V294.22h-0.6ZM170.45 291.99h1.12V292.81h-1.12Z"/><path fill="#089981" d="M171.26 289.63h0.6V293.62h-0.6ZM171.00 292.08h1.12V292.81h-1.12Z"/><path fill="#f23645" d="M171.81 291.29h0.6V293.90h-0.6ZM171.55 292.05h1.12V292.65h-1.12ZM172.36 291.68h0.6V294.24h-0.6ZM172.10 292.62h1.12V294.02h-1.12Z"/><path fill="#089981" d="M172.91 293.44h0.6V294.61h-0.6ZM172.65 293.72h1.12V294.32h-1.12Z"/><path fill="#f23645" d="M173.46 294.00h0.6V295.26h-0.6ZM173.20 293.90h1.12V294.50h-1.12ZM174.01 293.92h0.6V295.47h-0.6ZM173.75 294.32h1.12V294.92h-1.12ZM174.56 293.43h0.6V297.06h-0.6ZM174.30 294.85h1.12V295.70h-1.12Z"/><path fill="#089981" d="M175.11 295.04h0.6V296.27h-0.6ZM174.85 295.25h1.12V295.85h-1.12Z"/><path fill="#f23645" d="M175.66 294.03h0.6V298.48h-0.6ZM175.40 295.40h1.12V297.94h-1.12ZM176.21 297.66h0.6V319.17h-0.6ZM175.95 297.94h1.12V310.35h-1.12ZM176.76 309.27h0.6V314.42h-0.6ZM176.50 310.35h1.12V313.76h-1.12Z"/><path fill="#089981" d="M177.31 311.48h0.6V313.94h-0.6ZM177.05 312.98h1.12V313.76h-1.12ZM177.86 312.19h0.6V314.24h-0.6ZM177.60 312.41h1.12V313.01h-1.12Z"/><path fill="#f23645" d="M178.41 312.01h0.6V315.18h-0.6ZM178.15 312.45h1.12V314.80h-1.12Z"/><path fill="#089981" d="M178.96 313.45h0.6V318.20h-0.6ZM178.70 313.76h1.12V314.80h-1.12ZM179.51 312.24h0.6V314.64h-0.6ZM179.25 312.47h1.12V313.76h-1.12Z"/><path fill="#f23645" d="M180.06 311.77h0.6V313.51h-0.6ZM179.80 312.44h1.12V313.04h-1.12ZM180.61 312.91h0.6V313.80h-0.6ZM180.35 313.02h1.12V313.76h-1.12Z"/><path fill="#089981" d="M181.16 310.45h0.6V313.97h-0.6ZM180.90 311.68h1.12V313.76h-1.12Z"/><path fill="#f23645" d="M181.70 310.89h0.6V314.99h-0.6ZM181.44 311.68h1.12V313.84h-1.12Z"/><path fill="#089981" d="M182.25 312.74h0.6V313.91h-0.6ZM181.99 313.34h1.12V313.94h-1.12ZM182.80 301.10h0.6V314.84h-0.6ZM182.54 303.73h1.12V313.45h-1.12Z"/><path fill="#f23645" d="M183.35 302.98h0.6V306.79h-0.6ZM183.09 303.73h1.12V306.11h-1.12ZM183.90 305.51h0.6V315.37h-0.6ZM183.64 306.11h1.12V314.39h-1.12Z"/><path fill="#089981" d="M184.45 312.87h0.6V314.57h-0.6ZM184.19 313.02h1.12V314.39h-1.12Z"/><path fill="#f23645" d="M185.00 312.57h0.6V315.96h-0.6ZM184.74 313.02h1.12V315.48h-1.12ZM185.55 314.43h0.6V316.71h-0.6ZM185.29 315.48h1.12V316.09h-1.12Z"/><path fill="#089981" d="M186.10 314.61h0.6V316.82h-0.6ZM185.84 315.33h1.12V316.09h-1.12Z"/><path fill="#f23645" d="M186.65 314.82h0.6V315.57h-0.6ZM186.39 315.08h1.12V315.68h-1.12Z"/><path fill="#089981" d="M187.20 314.58h0.6V316.16h-0.6ZM186.94 314.76h1.12V315.44h-1.12ZM187.75 313.69h0.6V315.59h-0.6ZM187.49 313.70h1.12V314.76h-1.12Z"/><path fill="#f23645" d="M188.30 313.05h0.6V314.80h-0.6ZM188.04 313.70h1.12V314.70h-1.12ZM188.85 314.28h0.6V317.35h-0.6ZM188.59 314.70h1.12V316.79h-1.12ZM189.40 316.40h0.6V318.60h-0.6ZM189.14 316.79h1.12V318.45h-1.12ZM189.95 314.70h0.6V321.13h-0.6ZM189.69 318.45h1.12V319.50h-1.12Z"/><path fill="#089981" d="M190.50 315.74h0.6V320.07h-0.6ZM190.24 316.22h1.12V319.50h-1.12ZM191.05 312.48h0.6V316.75h-0.6ZM190.79 313.12h1.12V316.22h-1.12ZM191.60 310.73h0.6V313.26h-0.6ZM191.34 310.96h1.12V313.12h-1.12ZM192.15 310.16h0.6V312.16h-0.6ZM191.89 310.64h1.12V311.24h-1.12ZM192.70 309.04h0.6V311.73h-0.6ZM192.44 309.46h1.12V310.93h-1.12ZM193.25 307.17h0.6V309.47h-0.6ZM192.99 308.88h1.12V309.48h-1.12Z"/><path fill="#f23645" d="M193.80 305.51h0.6V309.57h-0.6ZM193.54 308.87h1.12V309.47h-1.12Z"/><path fill="#089981" d="M194.35 306.26h0.6V309.64h-0.6ZM194.09 306.71h1.12V309.43h-1.12Z"/><path fill="#f23645" d="M194.90 306.59h0.6V312.10h-0.6ZM194.64 306.71h1.12V310.69h-1.12Z"/><path fill="#089981" d="M195.44 310.13h0.6V312.43h-0.6ZM195.18 310.37h1.12V310.97h-1.12ZM195.99 309.19h0.6V310.88h-0.6ZM195.73 309.66h1.12V310.65h-1.12ZM196.54 309.09h0.6V310.27h-0.6ZM196.28 309.15h1.12V309.75h-1.12Z"/><path fill="#f23645" d="M197.09 308.81h0.6V313.89h-0.6ZM196.83 309.24h1.12V312.51h-1.12Z"/><path fill="#089981" d="M197.64 310.29h0.6V312.55h-0.6ZM197.38 311.57h1.12V312.51h-1.12ZM198.19 309.83h0.6V312.75h-0.6ZM197.93 310.79h1.12V311.57h-1.12ZM198.74 307.20h0.6V311.15h-0.6ZM198.48 308.63h1.12V310.79h-1.12ZM199.29 307.26h0.6V309.05h-0.6ZM199.03 307.91h1.12V308.63h-1.12ZM199.84 305.40h0.6V310.17h-0.6ZM199.58 305.54h1.12V307.91h-1.12ZM200.39 302.00h0.6V305.58h-0.6ZM200.13 302.49h1.12V305.54h-1.12ZM200.94 302.06h0.6V302.52h-0.6ZM200.68 302.08h1.12V302.68h-1.12Z"/><path fill="#f23645" d="M201.49 298.51h0.6V306.24h-0.6ZM201.23 302.27h1.12V304.92h-1.12Z"/><path fill="#089981" d="M202.04 303.26h0.6V305.04h-0.6ZM201.78 304.18h1.12V304.92h-1.12Z"/><path fill="#f23645" d="M202.59 303.99h0.6V304.53h-0.6ZM202.33 303.92h1.12V304.52h-1.12ZM203.14 303.13h0.6V306.82h-0.6ZM202.88 304.26h1.12V305.51h-1.12Z"/><path fill="#089981" d="M203.69 301.96h0.6V305.90h-0.6ZM203.43 303.67h1.12V305.51h-1.12ZM204.24 301.14h0.6V303.73h-0.6ZM203.98 301.28h1.12V303.67h-1.12Z"/><path fill="#f23645" d="M204.79 299.53h0.6V302.84h-0.6ZM204.53 301.28h1.12V302.56h-1.12ZM205.34 302.00h0.6V306.39h-0.6ZM205.08 302.56h1.12V305.33h-1.12ZM205.89 304.66h0.6V307.54h-0.6ZM205.63 305.33h1.12V307.02h-1.12ZM206.44 306.61h0.6V308.84h-0.6ZM206.18 307.02h1.12V308.82h-1.12Z"/><path fill="#089981" d="M206.99 308.11h0.6V309.27h-0.6ZM206.73 308.36h1.12V308.96h-1.12Z"/><path fill="#f23645" d="M207.54 308.44h0.6V308.85h-0.6ZM207.28 308.36h1.12V308.96h-1.12Z"/><path fill="#089981" d="M208.09 303.49h0.6V308.87h-0.6ZM207.83 303.90h1.12V308.82h-1.12ZM208.64 299.98h0.6V304.13h-0.6ZM208.38 300.22h1.12V303.90h-1.12ZM209.18 290.71h0.6V304.05h-0.6ZM208.92 299.09h1.12V300.22h-1.12Z"/><path fill="#f23645" d="M209.73 298.21h0.6V304.12h-0.6ZM209.47 299.09h1.12V303.39h-1.12Z"/><path fill="#089981" d="M210.28 295.89h0.6V305.79h-0.6ZM210.02 299.73h1.12V303.39h-1.12ZM210.83 295.32h0.6V300.92h-0.6ZM210.57 297.94h1.12V299.73h-1.12ZM211.38 291.21h0.6V301.18h-0.6ZM211.12 292.63h1.12V297.94h-1.12ZM211.93 288.27h0.6V293.94h-0.6ZM211.67 290.49h1.12V292.63h-1.12Z"/><path fill="#f23645" d="M212.48 288.50h0.6V292.47h-0.6ZM212.22 290.44h1.12V291.04h-1.12Z"/><path fill="#089981" d="M213.03 268.37h0.6V291.84h-0.6ZM212.77 274.91h1.12V290.98h-1.12ZM213.58 264.62h0.6V275.56h-0.6ZM213.32 270.76h1.12V274.91h-1.12ZM214.13 269.95h0.6V270.86h-0.6ZM213.87 270.39h1.12V270.99h-1.12ZM214.68 266.96h0.6V271.11h-0.6ZM214.42 267.53h1.12V270.63h-1.12Z"/><path fill="#f23645" d="M215.23 265.45h0.6V272.88h-0.6ZM214.97 267.53h1.12V270.76h-1.12ZM215.78 268.07h0.6V271.34h-0.6ZM215.52 270.66h1.12V271.26h-1.12Z"/><path fill="#089981" d="M216.33 268.03h0.6V271.92h-0.6ZM216.07 269.76h1.12V271.16h-1.12ZM216.88 265.73h0.6V270.58h-0.6ZM216.62 266.84h1.12V269.76h-1.12Z"/><path fill="#f23645" d="M217.43 265.55h0.6V268.17h-0.6ZM217.17 266.72h1.12V267.32h-1.12Z"/><path fill="#089981" d="M217.98 261.99h0.6V268.72h-0.6ZM217.72 263.69h1.12V267.19h-1.12Z"/><path fill="#f23645" d="M218.53 260.39h0.6V268.95h-0.6ZM218.27 263.69h1.12V265.36h-1.12ZM219.08 262.30h0.6V268.92h-0.6ZM218.82 265.14h1.12V265.74h-1.12ZM219.63 264.25h0.6V266.45h-0.6ZM219.37 265.39h1.12V265.99h-1.12Z"/><path fill="#089981" d="M220.18 264.53h0.6V267.26h-0.6ZM219.92 265.41h1.12V266.01h-1.12ZM220.73 263.34h0.6V265.60h-0.6ZM220.47 263.54h1.12V265.55h-1.12ZM221.28 261.79h0.6V267.01h-0.6ZM221.02 262.92h1.12V263.54h-1.12ZM221.83 255.52h0.6V266.83h-0.6ZM221.57 259.40h1.12V262.92h-1.12ZM222.38 252.12h0.6V260.55h-0.6ZM222.12 257.81h1.12V259.40h-1.12ZM222.92 256.27h0.6V258.27h-0.6ZM222.66 257.07h1.12V257.81h-1.12ZM223.47 255.46h0.6V257.28h-0.6ZM223.21 255.82h1.12V257.07h-1.12Z"/><path fill="#f23645" d="M224.02 254.42h0.6V258.56h-0.6ZM223.76 255.82h1.12V258.25h-1.12ZM224.57 258.21h0.6V261.52h-0.6ZM224.31 258.25h1.12V260.98h-1.12ZM225.12 259.53h0.6V263.07h-0.6ZM224.86 260.98h1.12V263.00h-1.12Z"/><path fill="#089981" d="M225.67 252.47h0.6V264.03h-0.6ZM225.41 252.55h1.12V263.00h-1.12Z"/><path fill="#f23645" d="M226.22 250.76h0.6V260.99h-0.6ZM225.96 252.55h1.12V260.27h-1.12Z"/><path fill="#089981" d="M226.77 256.38h0.6V261.29h-0.6ZM226.51 258.04h1.12V260.27h-1.12ZM227.32 254.72h0.6V258.87h-0.6ZM227.06 255.34h1.12V258.04h-1.12ZM227.87 253.05h0.6V256.58h-0.6ZM227.61 253.45h1.12V255.34h-1.12Z"/><path fill="#f23645" d="M228.42 250.84h0.6V254.77h-0.6ZM228.16 253.45h1.12V254.50h-1.12ZM228.97 253.42h0.6V262.73h-0.6ZM228.71 254.50h1.12V262.09h-1.12Z"/><path fill="#089981" d="M229.52 259.41h0.6V263.64h-0.6ZM229.26 259.76h1.12V262.09h-1.12ZM230.07 254.53h0.6V259.93h-0.6ZM229.81 255.78h1.12V259.76h-1.12ZM230.62 250.41h0.6V257.82h-0.6ZM230.36 253.42h1.12V255.78h-1.12Z"/><path fill="#f23645" d="M231.17 251.70h0.6V254.80h-0.6ZM230.91 253.38h1.12V253.98h-1.12Z"/><path fill="#089981" d="M231.72 250.75h0.6V254.13h-0.6ZM231.46 252.82h1.12V253.95h-1.12Z"/><path fill="#f23645" d="M232.27 252.22h0.6V255.57h-0.6ZM232.01 252.82h1.12V255.38h-1.12ZM232.82 253.66h0.6V257.55h-0.6ZM232.56 255.38h1.12V257.45h-1.12Z"/><path fill="#089981" d="M233.37 253.85h0.6V258.02h-0.6ZM233.11 254.41h1.12V257.45h-1.12ZM233.92 252.54h0.6V256.27h-0.6ZM233.66 253.88h1.12V254.48h-1.12ZM234.47 246.32h0.6V254.26h-0.6ZM234.21 249.14h1.12V253.96h-1.12ZM235.02 244.52h0.6V250.79h-0.6ZM234.76 244.53h1.12V249.14h-1.12ZM235.57 242.93h0.6V245.46h-0.6ZM235.31 243.94h1.12V244.54h-1.12ZM236.12 235.02h0.6V245.21h-0.6ZM235.86 235.98h1.12V243.96h-1.12ZM236.66 225.08h0.6V236.66h-0.6ZM236.40 228.01h1.12V235.98h-1.12Z"/><path fill="#f23645" d="M237.21 227.26h0.6V232.32h-0.6ZM236.95 228.01h1.12V230.74h-1.12Z"/><path fill="#089981" d="M237.76 224.98h0.6V232.80h-0.6ZM237.50 226.63h1.12V230.74h-1.12Z"/><path fill="#f23645" d="M238.31 225.62h0.6V229.58h-0.6ZM238.05 226.63h1.12V227.64h-1.12ZM238.86 226.96h0.6V231.13h-0.6ZM238.60 227.64h1.12V229.17h-1.12Z"/><path fill="#089981" d="M239.41 227.28h0.6V230.56h-0.6ZM239.15 228.85h1.12V229.45h-1.12Z"/><path fill="#f23645" d="M239.96 228.94h0.6V242.94h-0.6ZM239.70 229.12h1.12V238.93h-1.12Z"/><path fill="#089981" d="M240.51 233.29h0.6V241.02h-0.6ZM240.25 235.69h1.12V238.93h-1.12ZM241.06 230.61h0.6V238.92h-0.6ZM240.80 232.52h1.12V235.69h-1.12Z"/><path fill="#f23645" d="M241.61 231.23h0.6V237.87h-0.6ZM241.35 232.52h1.12V235.96h-1.12ZM242.16 235.39h0.6V238.07h-0.6ZM241.90 235.67h1.12V236.27h-1.12ZM242.71 235.81h0.6V236.54h-0.6ZM242.45 235.79h1.12V236.39h-1.12ZM243.26 236.13h0.6V239.52h-0.6ZM243.00 236.21h1.12V238.33h-1.12Z"/><path fill="#089981" d="M243.81 232.90h0.6V241.72h-0.6ZM243.55 233.28h1.12V238.33h-1.12ZM244.36 232.05h0.6V233.29h-0.6ZM244.10 232.72h1.12V233.32h-1.12ZM244.91 226.40h0.6V233.52h-0.6ZM244.65 229.50h1.12V232.77h-1.12ZM245.46 228.86h0.6V229.85h-0.6ZM245.20 228.95h1.12V229.55h-1.12ZM246.01 227.32h0.6V231.30h-0.6ZM245.75 228.38h1.12V229.01h-1.12Z"/><path fill="#f23645" d="M246.56 228.12h0.6V233.11h-0.6ZM246.30 228.38h1.12V231.27h-1.12ZM247.11 230.32h0.6V231.95h-0.6ZM246.85 231.19h1.12V231.79h-1.12Z"/><path fill="#089981" d="M247.66 229.12h0.6V233.57h-0.6ZM247.40 229.87h1.12V231.72h-1.12Z"/><path fill="#f23645" d="M248.21 227.91h0.6V234.69h-0.6ZM247.95 229.87h1.12V233.85h-1.12ZM248.76 233.61h0.6V237.55h-0.6ZM248.50 233.85h1.12V235.54h-1.12Z"/><path fill="#089981" d="M249.31 233.58h0.6V235.70h-0.6ZM249.05 233.66h1.12V235.54h-1.12ZM249.86 232.77h0.6V234.43h-0.6ZM249.60 233.34h1.12V233.94h-1.12ZM250.40 232.24h0.6V236.47h-0.6ZM250.14 232.75h1.12V233.62h-1.12Z"/><path fill="#f23645" d="M250.95 230.92h0.6V236.16h-0.6ZM250.69 232.75h1.12V234.82h-1.12Z"/><path fill="#089981" d="M251.50 225.88h0.6V234.84h-0.6ZM251.24 227.64h1.12V234.82h-1.12ZM252.05 221.29h0.6V229.49h-0.6ZM251.79 224.71h1.12V227.64h-1.12Z"/><path fill="#f23645" d="M252.60 222.72h0.6V240.52h-0.6ZM252.34 224.71h1.12V232.71h-1.12Z"/><path fill="#089981" d="M253.15 227.33h0.6V233.82h-0.6ZM252.89 228.47h1.12V232.71h-1.12ZM253.70 225.89h0.6V231.70h-0.6ZM253.44 227.64h1.12V228.47h-1.12Z"/><path fill="#f23645" d="M254.25 225.19h0.6V228.76h-0.6ZM253.99 227.64h1.12V228.50h-1.12ZM254.80 226.99h0.6V228.66h-0.6ZM254.54 228.23h1.12V228.83h-1.12Z"/><path fill="#089981" d="M255.35 216.08h0.6V233.02h-0.6ZM255.09 217.60h1.12V228.56h-1.12ZM255.90 212.41h0.6V218.86h-0.6ZM255.64 214.29h1.12V217.60h-1.12Z"/><path fill="#f23645" d="M256.45 210.79h0.6V219.96h-0.6ZM256.19 214.29h1.12V218.65h-1.12ZM257.00 210.62h0.6V221.64h-0.6ZM256.74 218.65h1.12V219.70h-1.12ZM257.55 219.17h0.6V237.74h-0.6ZM257.29 219.70h1.12V232.71h-1.12ZM258.10 231.67h0.6V234.88h-0.6ZM257.84 232.71h1.12V234.87h-1.12ZM258.65 233.10h0.6V237.85h-0.6ZM258.39 234.87h1.12V236.76h-1.12Z"/><path fill="#089981" d="M259.20 231.34h0.6V237.39h-0.6ZM258.94 232.54h1.12V236.76h-1.12ZM259.75 231.25h0.6V234.38h-0.6ZM259.49 231.38h1.12V232.54h-1.12Z"/><path fill="#f23645" d="M260.30 230.56h0.6V236.20h-0.6ZM260.04 231.38h1.12V235.28h-1.12ZM260.85 235.16h0.6V241.64h-0.6ZM260.59 235.28h1.12V238.73h-1.12Z"/><path fill="#089981" d="M261.40 236.51h0.6V240.96h-0.6ZM261.14 237.07h1.12V238.73h-1.12ZM261.95 235.39h0.6V238.36h-0.6ZM261.69 236.32h1.12V237.07h-1.12Z"/><path fill="#f23645" d="M262.50 233.06h0.6V237.88h-0.6ZM262.24 236.32h1.12V237.54h-1.12ZM263.05 237.25h0.6V246.65h-0.6ZM262.79 237.54h1.12V245.80h-1.12Z"/><path fill="#089981" d="M263.60 243.14h0.6V249.99h-0.6ZM263.34 244.16h1.12V245.80h-1.12ZM264.14 242.43h0.6V247.93h-0.6ZM263.88 243.60h1.12V244.20h-1.12Z"/><path fill="#f23645" d="M264.69 242.64h0.6V244.89h-0.6ZM264.43 243.50h1.12V244.10h-1.12Z"/><path fill="#089981" d="M265.24 235.68h0.6V245.76h-0.6ZM264.98 236.57h1.12V243.96h-1.12ZM265.79 233.89h0.6V237.90h-0.6ZM265.53 234.12h1.12V236.57h-1.12ZM266.34 231.65h0.6V234.96h-0.6ZM266.08 232.08h1.12V234.12h-1.12ZM266.89 228.52h0.6V233.74h-0.6ZM266.63 230.81h1.12V232.08h-1.12ZM267.44 228.41h0.6V232.78h-0.6ZM267.18 229.96h1.12V230.81h-1.12Z"/><path fill="#f23645" d="M267.99 229.41h0.6V233.88h-0.6ZM267.73 229.96h1.12V233.66h-1.12Z"/><path fill="#089981" d="M268.54 231.47h0.6V234.61h-0.6ZM268.28 233.21h1.12V233.81h-1.12ZM269.09 231.17h0.6V233.99h-0.6ZM268.83 231.38h1.12V233.35h-1.12Z"/><path fill="#f23645" d="M269.64 230.75h0.6V232.90h-0.6ZM269.38 231.38h1.12V232.43h-1.12Z"/><path fill="#089981" d="M270.19 229.14h0.6V232.73h-0.6ZM269.93 230.80h1.12V232.43h-1.12Z"/><path fill="#f23645" d="M270.74 229.57h0.6V235.11h-0.6ZM270.48 230.80h1.12V233.28h-1.12Z"/><path fill="#089981" d="M271.29 230.70h0.6V234.53h-0.6ZM271.03 231.82h1.12V233.28h-1.12ZM271.84 225.13h0.6V234.06h-0.6ZM271.58 227.08h1.12V231.82h-1.12ZM272.39 222.39h0.6V227.89h-0.6ZM272.13 223.44h1.12V227.08h-1.12ZM272.94 214.55h0.6V225.53h-0.6ZM272.68 217.08h1.12V223.44h-1.12ZM273.49 213.69h0.6V218.54h-0.6ZM273.23 214.21h1.12V217.08h-1.12ZM274.04 211.73h0.6V214.68h-0.6ZM273.78 212.97h1.12V214.21h-1.12ZM274.59 206.32h0.6V213.33h-0.6ZM274.33 207.49h1.12V212.97h-1.12ZM275.14 200.98h0.6V209.17h-0.6ZM274.88 202.97h1.12V207.49h-1.12ZM275.69 200.05h0.6V204.56h-0.6ZM275.43 201.55h1.12V202.97h-1.12ZM276.24 199.17h0.6V202.36h-0.6ZM275.98 199.29h1.12V201.55h-1.12Z"/><path fill="#f23645" d="M276.79 198.34h0.6V202.31h-0.6ZM276.53 199.29h1.12V200.45h-1.12Z"/><path fill="#089981" d="M277.34 195.66h0.6V201.55h-0.6ZM277.08 196.35h1.12V200.45h-1.12Z"/><path fill="#f23645" d="M277.88 191.51h0.6V198.23h-0.6ZM277.62 196.35h1.12V197.40h-1.12Z"/><path fill="#089981" d="M278.43 193.86h0.6V197.75h-0.6ZM278.17 196.64h1.12V197.40h-1.12Z"/><path fill="#f23645" d="M278.98 196.64h0.6V205.06h-0.6ZM278.72 196.64h1.12V200.14h-1.12Z"/><path fill="#089981" d="M279.53 198.21h0.6V201.70h-0.6ZM279.27 199.53h1.12V200.14h-1.12ZM280.08 197.87h0.6V202.12h-0.6ZM279.82 198.51h1.12V199.53h-1.12Z"/><path fill="#f23645" d="M280.63 197.49h0.6V205.84h-0.6ZM280.37 198.51h1.12V204.89h-1.12Z"/><path fill="#089981" d="M281.18 203.51h0.6V207.61h-0.6ZM280.92 204.27h1.12V204.89h-1.12ZM281.73 201.17h0.6V205.14h-0.6ZM281.47 201.87h1.12V204.27h-1.12ZM282.28 191.99h0.6V203.40h-0.6ZM282.02 193.26h1.12V201.87h-1.12ZM282.83 183.77h0.6V195.74h-0.6ZM282.57 185.79h1.12V193.26h-1.12ZM283.38 167.03h0.6V186.68h-0.6ZM283.12 170.90h1.12V185.79h-1.12Z"/><path fill="#f23645" d="M283.93 169.06h0.6V174.66h-0.6ZM283.67 170.90h1.12V174.46h-1.12Z"/><path fill="#089981" d="M284.48 170.49h0.6V174.58h-0.6ZM284.22 173.25h1.12V174.46h-1.12ZM285.03 170.30h0.6V173.84h-0.6ZM284.77 172.21h1.12V173.25h-1.12ZM285.58 162.36h0.6V172.97h-0.6ZM285.32 164.94h1.12V172.21h-1.12ZM286.13 156.08h0.6V165.05h-0.6ZM285.87 156.53h1.12V164.94h-1.12Z"/><path fill="#f23645" d="M286.68 154.28h0.6V179.75h-0.6ZM286.42 156.53h1.12V167.54h-1.12Z"/><path fill="#089981" d="M287.23 159.53h0.6V171.95h-0.6ZM286.97 161.76h1.12V167.54h-1.12ZM287.78 160.90h0.6V163.35h-0.6ZM287.52 160.96h1.12V161.76h-1.12ZM288.33 151.93h0.6V161.68h-0.6ZM288.07 156.41h1.12V160.96h-1.12ZM288.88 152.75h0.6V157.71h-0.6ZM288.62 155.95h1.12V156.55h-1.12ZM289.43 153.72h0.6V157.89h-0.6ZM289.17 154.75h1.12V156.08h-1.12ZM289.98 147.02h0.6V154.99h-0.6ZM289.72 147.57h1.12V154.75h-1.12ZM290.53 146.11h0.6V149.25h-0.6ZM290.27 147.23h1.12V147.83h-1.12ZM291.08 143.77h0.6V148.62h-0.6ZM290.82 145.33h1.12V147.50h-1.12Z"/><path fill="#f23645" d="M291.62 144.34h0.6V149.93h-0.6ZM291.36 145.33h1.12V149.17h-1.12ZM292.17 146.90h0.6V163.00h-0.6ZM291.91 149.17h1.12V153.57h-1.12ZM292.72 153.56h0.6V164.33h-0.6ZM292.46 153.57h1.12V163.75h-1.12Z"/><path fill="#089981" d="M293.27 154.86h0.6V165.11h-0.6ZM293.01 156.17h1.12V163.75h-1.12Z"/><path fill="#f23645" d="M293.82 154.43h0.6V161.66h-0.6ZM293.56 156.17h1.12V161.02h-1.12ZM294.37 156.89h0.6V175.40h-0.6ZM294.11 161.02h1.12V172.34h-1.12Z"/><path fill="#089981" d="M294.92 156.77h0.6V174.15h-0.6ZM294.66 157.49h1.12V172.34h-1.12Z"/><path fill="#f23645" d="M295.47 154.82h0.6V162.90h-0.6ZM295.21 157.49h1.12V161.79h-1.12ZM296.02 161.50h0.6V170.91h-0.6ZM295.76 161.79h1.12V167.54h-1.12Z"/><path fill="#089981" d="M296.57 162.95h0.6V168.07h-0.6ZM296.31 164.60h1.12V167.54h-1.12ZM297.12 159.03h0.6V166.44h-0.6ZM296.86 159.06h1.12V164.60h-1.12ZM297.67 151.84h0.6V161.65h-0.6ZM297.41 152.63h1.12V159.06h-1.12Z"/><path fill="#f23645" d="M298.22 151.23h0.6V159.80h-0.6ZM297.96 152.63h1.12V153.79h-1.12Z"/><path fill="#089981" d="M298.77 148.48h0.6V155.84h-0.6ZM298.51 153.44h1.12V154.04h-1.12Z"/><path fill="#f23645" d="M299.32 153.46h0.6V155.44h-0.6ZM299.06 153.69h1.12V154.77h-1.12ZM299.87 153.23h0.6V156.37h-0.6ZM299.61 154.55h1.12V155.15h-1.12Z"/><path fill="#089981" d="M300.42 150.17h0.6V157.41h-0.6ZM300.16 151.94h1.12V154.94h-1.12ZM300.97 146.11h0.6V152.86h-0.6ZM300.71 149.40h1.12V151.94h-1.12Z"/><path fill="#f23645" d="M301.52 147.55h0.6V154.44h-0.6ZM301.26 149.40h1.12V153.10h-1.12ZM302.07 153.10h0.6V165.76h-0.6ZM301.81 153.10h1.12V163.37h-1.12Z"/><path fill="#089981" d="M302.62 158.71h0.6V166.52h-0.6ZM302.36 159.98h1.12V163.37h-1.12ZM303.17 154.37h0.6V161.90h-0.6ZM302.91 155.94h1.12V159.98h-1.12Z"/><path fill="#f23645" d="M303.72 155.50h0.6V158.45h-0.6ZM303.46 155.78h1.12V156.38h-1.12Z"/><path fill="#089981" d="M304.27 151.82h0.6V157.78h-0.6ZM304.01 152.69h1.12V156.22h-1.12ZM304.82 150.03h0.6V155.79h-0.6ZM304.56 150.07h1.12V152.69h-1.12ZM305.36 146.00h0.6V150.78h-0.6ZM305.10 148.60h1.12V150.07h-1.12ZM305.91 147.17h0.6V151.77h-0.6ZM305.65 148.24h1.12V148.84h-1.12ZM306.46 146.62h0.6V149.30h-0.6ZM306.20 147.05h1.12V148.47h-1.12Z"/><path fill="#f23645" d="M307.01 146.99h0.6V154.34h-0.6ZM306.75 147.05h1.12V152.28h-1.12ZM307.56 150.69h0.6V161.42h-0.6ZM307.30 152.28h1.12V159.18h-1.12ZM308.11 157.37h0.6V175.67h-0.6ZM307.85 159.18h1.12V167.03h-1.12ZM308.66 165.88h0.6V169.84h-0.6ZM308.40 167.03h1.12V169.06h-1.12Z"/><path fill="#089981" d="M309.21 167.27h0.6V171.08h-0.6ZM308.95 168.44h1.12V169.06h-1.12Z"/><path fill="#f23645" d="M309.76 168.29h0.6V173.88h-0.6ZM309.50 168.44h1.12V173.47h-1.12ZM310.31 165.76h0.6V178.38h-0.6ZM310.05 173.47h1.12V174.07h-1.12Z"/><path fill="#089981" d="M310.86 167.07h0.6V177.36h-0.6ZM310.60 168.75h1.12V174.06h-1.12ZM311.41 163.16h0.6V169.07h-0.6ZM311.15 167.41h1.12V168.75h-1.12ZM311.96 165.10h0.6V169.97h-0.6ZM311.70 165.48h1.12V167.41h-1.12ZM312.51 162.13h0.6V166.39h-0.6ZM312.25 163.71h1.12V165.48h-1.12ZM313.06 157.50h0.6V165.16h-0.6ZM312.80 159.92h1.12V163.71h-1.12Z"/><path fill="#f23645" d="M313.61 159.88h0.6V163.48h-0.6ZM313.35 159.92h1.12V162.24h-1.12ZM314.16 160.37h0.6V166.82h-0.6ZM313.90 162.24h1.12V166.26h-1.12ZM314.71 165.29h0.6V170.46h-0.6ZM314.45 166.26h1.12V168.29h-1.12ZM315.26 168.26h0.6V168.71h-0.6ZM315.00 168.08h1.12V168.68h-1.12Z"/><path fill="#089981" d="M315.81 166.02h0.6V174.26h-0.6ZM315.55 168.15h1.12V168.75h-1.12Z"/><path fill="#f23645" d="M316.36 167.30h0.6V170.81h-0.6ZM316.10 168.44h1.12V169.24h-1.12ZM316.91 168.45h0.6V171.91h-0.6ZM316.65 169.24h1.12V171.19h-1.12ZM317.46 170.51h0.6V175.85h-0.6ZM317.20 171.19h1.12V175.80h-1.12ZM318.01 175.40h0.6V187.37h-0.6ZM317.75 175.80h1.12V182.25h-1.12Z"/><path fill="#089981" d="M318.56 176.73h0.6V185.41h-0.6ZM318.30 177.34h1.12V182.25h-1.12ZM319.10 169.41h0.6V179.69h-0.6ZM318.84 169.86h1.12V177.34h-1.12ZM319.65 167.83h0.6V170.11h-0.6ZM319.39 169.54h1.12V170.14h-1.12Z"/><path fill="#f23645" d="M320.20 169.72h0.6V170.94h-0.6ZM319.94 169.82h1.12V170.75h-1.12Z"/><path fill="#089981" d="M320.75 163.25h0.6V171.09h-0.6ZM320.49 169.08h1.12V170.75h-1.12Z"/><path fill="#f23645" d="M321.30 167.54h0.6V173.13h-0.6ZM321.04 169.08h1.12V172.48h-1.12ZM321.85 171.32h0.6V177.34h-0.6ZM321.59 172.48h1.12V174.33h-1.12Z"/><path fill="#089981" d="M322.40 171.51h0.6V175.70h-0.6ZM322.14 173.64h1.12V174.33h-1.12Z"/><path fill="#f23645" d="M322.95 172.87h0.6V177.00h-0.6ZM322.69 173.64h1.12V175.40h-1.12Z"/><path fill="#089981" d="M323.50 169.62h0.6V178.80h-0.6ZM323.24 170.14h1.12V175.40h-1.12Z"/><path fill="#f23645" d="M324.05 168.94h0.6V175.57h-0.6ZM323.79 170.14h1.12V171.79h-1.12Z"/><path fill="#089981" d="M324.60 167.61h0.6V174.00h-0.6ZM324.34 169.73h1.12V171.79h-1.12ZM325.15 165.98h0.6V169.73h-0.6ZM324.89 166.86h1.12V169.73h-1.12ZM325.70 160.88h0.6V169.91h-0.6ZM325.44 161.39h1.12V166.86h-1.12Z"/><path fill="#f23645" d="M326.25 159.99h0.6V163.97h-0.6ZM325.99 161.39h1.12V162.53h-1.12Z"/><path fill="#089981" d="M326.80 156.12h0.6V163.11h-0.6ZM326.54 159.43h1.12V162.53h-1.12ZM327.35 156.78h0.6V162.91h-0.6ZM327.09 158.10h1.12V159.43h-1.12ZM327.90 153.27h0.6V162.30h-0.6ZM327.64 155.84h1.12V158.10h-1.12ZM328.45 148.94h0.6V155.91h-0.6ZM328.19 149.05h1.12V155.84h-1.12Z"/><path fill="#f23645" d="M329.00 147.91h0.6V152.29h-0.6ZM328.74 149.05h1.12V152.05h-1.12ZM329.55 150.88h0.6V157.16h-0.6ZM329.29 152.05h1.12V155.90h-1.12ZM330.10 152.70h0.6V160.28h-0.6ZM329.84 155.90h1.12V157.25h-1.12Z"/><path fill="#089981" d="M330.65 155.44h0.6V157.29h-0.6ZM330.39 155.74h1.12V157.25h-1.12ZM331.20 152.71h0.6V156.43h-0.6ZM330.94 153.75h1.12V155.74h-1.12ZM331.75 152.06h0.6V155.14h-0.6ZM331.49 152.91h1.12V153.75h-1.12Z"/><path fill="#f23645" d="M332.30 152.66h0.6V154.58h-0.6ZM332.04 152.91h1.12V153.80h-1.12Z"/><path fill="#089981" d="M332.84 153.03h0.6V155.45h-0.6ZM332.58 153.27h1.12V153.87h-1.12Z"/><path fill="#f23645" d="M333.39 152.99h0.6V157.54h-0.6ZM333.13 153.34h1.12V157.03h-1.12Z"/><path fill="#089981" d="M333.94 154.45h0.6V159.31h-0.6ZM333.68 154.81h1.12V157.03h-1.12Z"/><path fill="#f23645" d="M334.49 152.61h0.6V159.09h-0.6ZM334.23 154.81h1.12V158.34h-1.12ZM335.04 157.32h0.6V159.02h-0.6ZM334.78 158.13h1.12V158.73h-1.12Z"/><path fill="#089981" d="M335.59 152.52h0.6V158.55h-0.6ZM335.33 153.81h1.12V158.52h-1.12Z"/><path fill="#f23645" d="M336.14 153.36h0.6V156.02h-0.6ZM335.88 153.81h1.12V155.22h-1.12Z"/><path fill="#089981" d="M336.69 152.70h0.6V156.71h-0.6ZM336.43 154.03h1.12V155.22h-1.12ZM337.24 147.66h0.6V155.16h-0.6ZM336.98 149.85h1.12V154.03h-1.12Z"/><path fill="#f23645" d="M337.79 149.12h0.6V151.25h-0.6ZM337.53 149.85h1.12V150.80h-1.12ZM338.34 147.91h0.6V156.98h-0.6ZM338.08 150.80h1.12V153.92h-1.12ZM338.89 152.80h0.6V155.32h-0.6ZM338.63 153.92h1.12V154.98h-1.12ZM339.44 154.04h0.6V156.84h-0.6ZM339.18 154.79h1.12V155.39h-1.12Z"/><path fill="#089981" d="M339.99 152.92h0.6V158.28h-0.6ZM339.73 154.83h1.12V155.43h-1.12Z"/><path fill="#f23645" d="M340.54 153.45h0.6V162.00h-0.6ZM340.28 155.07h1.12V158.82h-1.12Z"/><path fill="#089981" d="M341.09 152.40h0.6V160.04h-0.6ZM340.83 156.53h1.12V158.82h-1.12Z"/><path fill="#f23645" d="M341.64 156.50h0.6V160.02h-0.6ZM341.38 156.53h1.12V159.16h-1.12ZM342.19 158.89h0.6V162.36h-0.6ZM341.93 159.16h1.12V162.00h-1.12ZM342.74 160.74h0.6V165.15h-0.6ZM342.48 162.00h1.12V163.32h-1.12ZM343.29 161.99h0.6V164.84h-0.6ZM343.03 163.32h1.12V163.98h-1.12ZM343.84 163.04h0.6V167.37h-0.6ZM343.58 163.98h1.12V166.45h-1.12Z"/><path fill="#089981" d="M344.39 160.53h0.6V166.90h-0.6ZM344.13 164.12h1.12V166.45h-1.12Z"/><path fill="#f23645" d="M344.94 163.50h0.6V168.53h-0.6ZM344.68 164.12h1.12V166.40h-1.12Z"/><path fill="#089981" d="M345.49 164.91h0.6V166.77h-0.6ZM345.23 165.08h1.12V166.40h-1.12Z"/><path fill="#f23645" d="M346.04 162.21h0.6V168.65h-0.6ZM345.78 165.08h1.12V166.77h-1.12ZM346.58 165.14h0.6V174.43h-0.6ZM346.32 166.77h1.12V173.09h-1.12ZM347.13 172.49h0.6V176.28h-0.6ZM346.87 173.09h1.12V175.72h-1.12ZM347.68 168.69h0.6V181.98h-0.6ZM347.42 175.72h1.12V176.75h-1.12Z"/><path fill="#089981" d="M348.23 172.73h0.6V177.83h-0.6ZM347.97 175.68h1.12V176.75h-1.12Z"/><path fill="#f23645" d="M348.78 173.44h0.6V178.05h-0.6ZM348.52 175.68h1.12V176.35h-1.12Z"/><path fill="#089981" d="M349.33 171.76h0.6V177.64h-0.6ZM349.07 173.13h1.12V176.35h-1.12Z"/><path fill="#f23645" d="M349.88 171.61h0.6V174.56h-0.6ZM349.62 173.13h1.12V174.38h-1.12ZM350.43 173.78h0.6V175.14h-0.6ZM350.17 174.23h1.12V174.83h-1.12Z"/><path fill="#089981" d="M350.98 170.70h0.6V176.59h-0.6ZM350.72 171.83h1.12V174.69h-1.12ZM351.53 168.08h0.6V172.17h-0.6ZM351.27 169.99h1.12V171.83h-1.12Z"/><path fill="#f23645" d="M352.08 168.31h0.6V179.65h-0.6ZM351.82 169.99h1.12V177.16h-1.12Z"/><path fill="#089981" d="M352.63 175.44h0.6V179.68h-0.6ZM352.37 176.79h1.12V177.39h-1.12Z"/><path fill="#f23645" d="M353.18 174.77h0.6V186.72h-0.6ZM352.92 177.02h1.12V185.79h-1.12ZM353.73 184.51h0.6V196.28h-0.6ZM353.47 185.79h1.12V186.94h-1.12ZM354.28 186.47h0.6V189.87h-0.6ZM354.02 186.94h1.12V189.05h-1.12ZM354.83 187.70h0.6V191.26h-0.6ZM354.57 188.78h1.12V189.38h-1.12Z"/><path fill="#089981" d="M355.38 185.61h0.6V189.52h-0.6ZM355.12 186.91h1.12V189.12h-1.12ZM355.93 181.92h0.6V187.82h-0.6ZM355.67 183.13h1.12V186.91h-1.12Z"/><path fill="#f23645" d="M356.48 181.84h0.6V184.55h-0.6ZM356.22 183.13h1.12V183.80h-1.12Z"/><path fill="#089981" d="M357.03 182.26h0.6V186.64h-0.6ZM356.77 183.04h1.12V183.80h-1.12Z"/><path fill="#f23645" d="M357.58 180.58h0.6V183.65h-0.6ZM357.32 182.91h1.12V183.51h-1.12Z"/><path fill="#089981" d="M358.13 176.37h0.6V183.85h-0.6ZM357.87 179.01h1.12V183.38h-1.12ZM358.68 175.28h0.6V179.60h-0.6ZM358.42 175.40h1.12V179.01h-1.12ZM359.23 164.17h0.6V175.95h-0.6ZM358.97 165.13h1.12V175.40h-1.12Z"/><path fill="#f23645" d="M359.78 163.56h0.6V171.03h-0.6ZM359.52 165.13h1.12V169.60h-1.12Z"/><path fill="#089981" d="M360.32 166.42h0.6V170.29h-0.6ZM360.06 166.77h1.12V169.60h-1.12ZM360.87 163.23h0.6V167.95h-0.6ZM360.61 164.05h1.12V166.77h-1.12ZM361.42 158.43h0.6V164.32h-0.6ZM361.16 160.28h1.12V164.05h-1.12ZM361.97 157.51h0.6V162.67h-0.6ZM361.71 158.78h1.12V160.28h-1.12ZM362.52 155.75h0.6V158.82h-0.6ZM362.26 156.77h1.12V158.78h-1.12Z"/><path fill="#f23645" d="M363.07 156.71h0.6V162.39h-0.6ZM362.81 156.77h1.12V160.90h-1.12ZM363.62 158.39h0.6V162.24h-0.6ZM363.36 160.90h1.12V162.13h-1.12ZM364.17 161.64h0.6V165.52h-0.6ZM363.91 162.13h1.12V164.10h-1.12Z"/><path fill="#089981" d="M364.72 161.76h0.6V168.57h-0.6ZM364.46 162.50h1.12V164.10h-1.12ZM365.27 159.77h0.6V164.82h-0.6ZM365.01 160.14h1.12V162.50h-1.12ZM365.82 153.80h0.6V161.08h-0.6ZM365.56 157.37h1.12V160.14h-1.12Z"/><path fill="#f23645" d="M366.37 153.76h0.6V157.83h-0.6ZM366.11 157.30h1.12V157.90h-1.12ZM366.92 152.40h0.6V160.62h-0.6ZM366.66 157.83h1.12V160.04h-1.12ZM367.47 158.45h0.6V161.98h-0.6ZM367.21 160.04h1.12V161.93h-1.12ZM368.02 158.77h0.6V165.65h-0.6ZM367.76 161.93h1.12V165.50h-1.12ZM368.57 164.78h0.6V170.23h-0.6ZM368.31 165.50h1.12V168.54h-1.12ZM369.12 167.95h0.6V176.04h-0.6ZM368.86 168.54h1.12V173.66h-1.12ZM369.67 172.56h0.6V177.93h-0.6ZM369.41 173.66h1.12V177.71h-1.12ZM370.22 174.55h0.6V183.97h-0.6ZM369.96 177.71h1.12V182.68h-1.12ZM370.77 182.25h0.6V210.62h-0.6ZM370.51 182.68h1.12V194.76h-1.12Z"/><path fill="#089981" d="M371.32 187.80h0.6V196.60h-0.6ZM371.06 188.68h1.12V194.76h-1.12ZM371.87 179.65h0.6V189.48h-0.6ZM371.61 180.53h1.12V188.68h-1.12ZM372.42 172.62h0.6V180.57h-0.6ZM372.16 173.00h1.12V180.53h-1.12Z"/><path fill="#f23645" d="M372.97 172.50h0.6V177.94h-0.6ZM372.71 173.00h1.12V177.03h-1.12ZM373.52 174.12h0.6V179.52h-0.6ZM373.26 177.03h1.12V179.37h-1.12ZM374.06 177.26h0.6V183.53h-0.6ZM373.80 179.37h1.12V181.14h-1.12Z"/><path fill="#089981" d="M374.61 180.08h0.6V182.38h-0.6ZM374.35 180.54h1.12V181.14h-1.12ZM375.16 175.59h0.6V182.03h-0.6ZM374.90 175.94h1.12V180.54h-1.12Z"/><path fill="#f23645" d="M375.71 175.36h0.6V182.06h-0.6ZM375.45 175.94h1.12V181.09h-1.12ZM376.26 180.49h0.6V184.71h-0.6ZM376.00 181.09h1.12V184.37h-1.12Z"/><path fill="#089981" d="M376.81 175.73h0.6V185.05h-0.6ZM376.55 176.58h1.12V184.37h-1.12Z"/><path fill="#f23645" d="M377.36 174.16h0.6V181.06h-0.6ZM377.10 176.58h1.12V180.96h-1.12ZM377.91 179.71h0.6V183.68h-0.6ZM377.65 180.96h1.12V181.84h-1.12Z"/><path fill="#089981" d="M378.46 180.87h0.6V183.30h-0.6ZM378.20 181.05h1.12V181.84h-1.12ZM379.01 179.69h0.6V182.13h-0.6ZM378.75 180.31h1.12V181.05h-1.12ZM379.56 171.87h0.6V181.69h-0.6ZM379.30 175.20h1.12V180.31h-1.12ZM380.11 170.08h0.6V176.77h-0.6ZM379.85 171.77h1.12V175.20h-1.12ZM380.66 164.09h0.6V174.54h-0.6ZM380.40 166.77h1.12V171.77h-1.12Z"/><path fill="#f23645" d="M381.21 165.92h0.6V168.75h-0.6ZM380.95 166.77h1.12V167.52h-1.12Z"/><path fill="#089981" d="M381.76 164.21h0.6V169.06h-0.6ZM381.50 166.39h1.12V167.52h-1.12Z"/><path fill="#f23645" d="M382.31 165.30h0.6V174.37h-0.6ZM382.05 166.39h1.12V174.04h-1.12ZM382.86 170.89h0.6V180.13h-0.6ZM382.60 174.04h1.12V179.07h-1.12Z"/><path fill="#089981" d="M383.41 176.62h0.6V179.81h-0.6ZM383.15 177.54h1.12V179.07h-1.12Z"/><path fill="#f23645" d="M383.96 176.65h0.6V179.98h-0.6ZM383.70 177.54h1.12V178.70h-1.12ZM384.51 178.19h0.6V180.76h-0.6ZM384.25 178.70h1.12V179.89h-1.12Z"/><path fill="#089981" d="M385.06 176.31h0.6V180.68h-0.6ZM384.80 178.79h1.12V179.89h-1.12Z"/><path fill="#f23645" d="M385.61 178.52h0.6V181.88h-0.6ZM385.35 178.79h1.12V181.02h-1.12Z"/><path fill="#089981" d="M386.16 178.20h0.6V181.69h-0.6ZM385.90 179.89h1.12V181.02h-1.12Z"/><path fill="#f23645" d="M386.71 179.11h0.6V181.22h-0.6ZM386.45 179.89h1.12V180.99h-1.12ZM387.26 180.88h0.6V186.09h-0.6ZM387.00 180.99h1.12V183.24h-1.12ZM387.80 183.10h0.6V190.62h-0.6ZM387.54 183.24h1.12V188.28h-1.12ZM388.35 185.94h0.6V199.36h-0.6ZM388.09 188.28h1.12V194.91h-1.12Z"/><path fill="#089981" d="M388.90 194.43h0.6V196.45h-0.6ZM388.64 194.50h1.12V195.10h-1.12ZM389.45 189.64h0.6V195.71h-0.6ZM389.19 190.88h1.12V194.70h-1.12ZM390.00 185.35h0.6V191.09h-0.6ZM389.74 185.79h1.12V190.88h-1.12Z"/><path fill="#f23645" d="M390.55 185.73h0.6V188.08h-0.6ZM390.29 185.56h1.12V186.16h-1.12Z"/><path fill="#089981" d="M391.10 183.76h0.6V188.71h-0.6ZM390.84 184.94h1.12V185.93h-1.12ZM391.65 175.55h0.6V185.68h-0.6ZM391.39 178.38h1.12V184.94h-1.12ZM392.20 175.02h0.6V178.40h-0.6ZM391.94 176.07h1.12V178.38h-1.12Z"/><path fill="#f23645" d="M392.75 175.15h0.6V181.16h-0.6ZM392.49 176.07h1.12V178.25h-1.12Z"/><path fill="#089981" d="M393.30 176.73h0.6V179.01h-0.6ZM393.04 177.24h1.12V178.25h-1.12Z"/><path fill="#f23645" d="M393.85 176.04h0.6V183.49h-0.6ZM393.59 177.24h1.12V182.54h-1.12Z"/><path fill="#089981" d="M394.40 174.54h0.6V184.75h-0.6ZM394.14 176.75h1.12V182.54h-1.12ZM394.95 169.68h0.6V178.21h-0.6ZM394.69 172.85h1.12V176.75h-1.12ZM395.50 167.16h0.6V174.21h-0.6ZM395.24 169.73h1.12V172.85h-1.12ZM396.05 164.37h0.6V170.23h-0.6ZM395.79 166.79h1.12V169.73h-1.12Z"/><path fill="#f23645" d="M396.60 165.84h0.6V167.74h-0.6ZM396.34 166.63h1.12V167.23h-1.12Z"/><path fill="#089981" d="M397.15 164.48h0.6V168.52h-0.6ZM396.89 165.80h1.12V167.06h-1.12Z"/><path fill="#f23645" d="M397.70 164.23h0.6V170.89h-0.6ZM397.44 165.80h1.12V168.69h-1.12Z"/><path fill="#089981" d="M398.25 164.62h0.6V168.73h-0.6ZM397.99 166.95h1.12V168.69h-1.12ZM398.80 164.70h0.6V169.15h-0.6ZM398.54 165.19h1.12V166.95h-1.12Z"/><path fill="#f23645" d="M399.35 164.22h0.6V169.18h-0.6ZM399.09 165.19h1.12V168.05h-1.12Z"/><path fill="#089981" d="M399.90 160.77h0.6V171.47h-0.6ZM399.64 162.50h1.12V168.05h-1.12ZM400.45 157.01h0.6V164.51h-0.6ZM400.19 159.29h1.12V162.50h-1.12Z"/><path fill="#f23645" d="M401.00 159.22h0.6V163.79h-0.6ZM400.74 159.29h1.12V163.00h-1.12ZM401.54 161.80h0.6V168.60h-0.6ZM401.28 163.00h1.12V167.99h-1.12ZM402.09 167.65h0.6V175.65h-0.6ZM401.83 167.99h1.12V175.27h-1.12ZM402.64 174.33h0.6V179.56h-0.6ZM402.38 174.98h1.12V175.58h-1.12ZM403.19 173.73h0.6V175.95h-0.6ZM402.93 175.11h1.12V175.71h-1.12ZM403.74 175.28h0.6V178.97h-0.6ZM403.48 175.54h1.12V177.94h-1.12Z"/><path fill="#089981" d="M404.29 176.57h0.6V177.96h-0.6ZM404.03 176.98h1.12V177.94h-1.12ZM404.84 171.44h0.6V178.79h-0.6ZM404.58 171.57h1.12V176.98h-1.12ZM405.39 168.77h0.6V171.98h-0.6ZM405.13 171.26h1.12V171.86h-1.12Z"/><path fill="#f23645" d="M405.94 169.82h0.6V173.34h-0.6ZM405.68 171.55h1.12V172.82h-1.12ZM406.49 170.39h0.6V176.74h-0.6ZM406.23 172.82h1.12V174.96h-1.12ZM407.04 174.06h0.6V180.58h-0.6ZM406.78 174.96h1.12V176.75h-1.12Z"/><path fill="#089981" d="M407.59 169.36h0.6V178.35h-0.6ZM407.33 170.90h1.12V176.75h-1.12ZM408.14 166.43h0.6V171.74h-0.6ZM407.88 169.16h1.12V170.90h-1.12ZM408.69 163.29h0.6V169.68h-0.6ZM408.43 163.87h1.12V169.16h-1.12ZM409.24 160.13h0.6V165.32h-0.6ZM408.98 161.88h1.12V163.87h-1.12Z"/><path fill="#f23645" d="M409.79 161.27h0.6V162.82h-0.6ZM409.53 161.88h1.12V162.58h-1.12Z"/><path fill="#089981" d="M410.34 157.42h0.6V163.43h-0.6ZM410.08 158.09h1.12V162.58h-1.12Z"/><path fill="#f23645" d="M410.89 156.42h0.6V162.23h-0.6ZM410.63 158.02h1.12V158.62h-1.12ZM411.44 157.87h0.6V162.46h-0.6ZM411.18 158.54h1.12V159.39h-1.12Z"/><path fill="#089981" d="M411.99 153.69h0.6V161.70h-0.6ZM411.73 157.09h1.12V159.39h-1.12ZM412.54 154.19h0.6V157.32h-0.6ZM412.28 154.75h1.12V157.09h-1.12Z"/><path fill="#f23645" d="M413.09 154.20h0.6V158.68h-0.6ZM412.83 154.75h1.12V157.64h-1.12ZM413.64 155.57h0.6V161.57h-0.6ZM413.38 157.64h1.12V160.93h-1.12Z"/><path fill="#089981" d="M414.19 158.30h0.6V162.80h-0.6ZM413.93 160.37h1.12V160.97h-1.12ZM414.74 157.87h0.6V161.27h-0.6ZM414.48 158.44h1.12V160.40h-1.12Z"/><path fill="#f23645" d="M415.28 157.30h0.6V162.49h-0.6ZM415.02 158.44h1.12V160.53h-1.12Z"/><path fill="#089981" d="M415.83 155.22h0.6V161.61h-0.6ZM415.57 158.14h1.12V160.53h-1.12ZM416.38 156.44h0.6V158.94h-0.6ZM416.12 156.64h1.12V158.14h-1.12ZM416.93 150.86h0.6V158.80h-0.6ZM416.67 152.52h1.12V156.64h-1.12ZM417.48 144.21h0.6V154.08h-0.6ZM417.22 146.11h1.12V152.52h-1.12Z"/><path fill="#f23645" d="M418.03 144.50h0.6V150.82h-0.6ZM417.77 146.11h1.12V149.00h-1.12ZM418.58 147.96h0.6V153.39h-0.6ZM418.32 149.00h1.12V151.82h-1.12ZM419.13 151.14h0.6V156.54h-0.6ZM418.87 151.82h1.12V155.74h-1.12ZM419.68 155.03h0.6V157.64h-0.6ZM419.42 155.56h1.12V156.16h-1.12Z"/><path fill="#089981" d="M420.23 153.98h0.6V158.57h-0.6ZM419.97 155.34h1.12V155.98h-1.12Z"/><path fill="#f23645" d="M420.78 153.16h0.6V157.63h-0.6ZM420.52 155.34h1.12V157.61h-1.12Z"/><path fill="#089981" d="M421.33 153.05h0.6V158.89h-0.6ZM421.07 153.80h1.12V157.61h-1.12ZM421.88 137.90h0.6V155.97h-0.6ZM421.62 139.84h1.12V153.80h-1.12Z"/><path fill="#f23645" d="M422.43 139.69h0.6V140.78h-0.6ZM422.17 139.84h1.12V140.45h-1.12Z"/><path fill="#089981" d="M422.98 135.73h0.6V142.01h-0.6ZM422.72 137.90h1.12V140.45h-1.12ZM423.53 133.61h0.6V138.50h-0.6ZM423.27 134.93h1.12V137.90h-1.12ZM424.08 129.42h0.6V135.49h-0.6ZM423.82 129.79h1.12V134.93h-1.12ZM424.63 113.39h0.6V132.96h-0.6ZM424.37 113.75h1.12V129.79h-1.12ZM425.18 111.86h0.6V116.32h-0.6ZM424.92 113.11h1.12V113.75h-1.12ZM425.73 105.15h0.6V113.14h-0.6ZM425.47 110.47h1.12V113.11h-1.12ZM426.28 109.54h0.6V113.20h-0.6ZM426.02 110.12h1.12V110.72h-1.12ZM426.83 109.32h0.6V112.96h-0.6ZM426.57 109.48h1.12V110.38h-1.12ZM427.38 106.45h0.6V110.29h-0.6ZM427.12 108.35h1.12V109.48h-1.12Z"/><path fill="#f23645" d="M427.93 107.70h0.6V113.78h-0.6ZM427.67 108.35h1.12V111.65h-1.12Z"/><path fill="#089981" d="M428.48 108.01h0.6V111.79h-0.6ZM428.22 108.55h1.12V111.65h-1.12ZM429.02 106.35h0.6V108.64h-0.6ZM428.76 107.26h1.12V108.55h-1.12ZM429.57 99.50h0.6V107.39h-0.6ZM429.31 100.07h1.12V107.26h-1.12ZM430.12 95.18h0.6V102.36h-0.6ZM429.86 96.81h1.12V100.07h-1.12ZM430.67 94.50h0.6V97.14h-0.6ZM430.41 95.82h1.12V96.81h-1.12Z"/><path fill="#f23645" d="M431.22 94.43h0.6V99.75h-0.6ZM430.96 95.82h1.12V99.28h-1.12Z"/><path fill="#089981" d="M431.77 95.76h0.6V101.10h-0.6ZM431.51 97.47h1.12V99.28h-1.12Z"/><path fill="#f23645" d="M432.32 95.96h0.6V103.14h-0.6ZM432.06 97.47h1.12V101.62h-1.12ZM432.87 101.62h0.6V109.93h-0.6ZM432.61 101.62h1.12V107.88h-1.12Z"/><path fill="#089981" d="M433.42 101.45h0.6V109.27h-0.6ZM433.16 103.14h1.12V107.88h-1.12ZM433.97 99.01h0.6V104.71h-0.6ZM433.71 101.44h1.12V103.14h-1.12Z"/><path fill="#f23645" d="M434.52 99.03h0.6V103.52h-0.6ZM434.26 101.44h1.12V102.17h-1.12Z"/><path fill="#089981" d="M435.07 97.23h0.6V103.35h-0.6ZM434.81 100.08h1.12V102.17h-1.12Z"/><path fill="#f23645" d="M435.62 98.94h0.6V102.84h-0.6ZM435.36 100.08h1.12V102.51h-1.12ZM436.17 98.45h0.6V102.71h-0.6ZM435.91 102.26h1.12V102.86h-1.12Z"/><path fill="#089981" d="M436.72 100.51h0.6V103.24h-0.6ZM436.46 101.01h1.12V102.62h-1.12ZM437.27 95.76h0.6V103.95h-0.6ZM437.01 96.23h1.12V101.01h-1.12Z"/><path fill="#f23645" d="M437.82 87.77h0.6V110.47h-0.6ZM437.56 96.23h1.12V99.23h-1.12Z"/><path fill="#089981" d="M438.37 92.96h0.6V99.82h-0.6ZM438.11 95.46h1.12V99.23h-1.12ZM438.92 93.18h0.6V96.11h-0.6ZM438.66 94.34h1.12V95.46h-1.12Z"/><path fill="#f23645" d="M439.47 92.62h0.6V96.37h-0.6ZM439.21 94.34h1.12V95.19h-1.12ZM440.02 93.30h0.6V98.82h-0.6ZM439.76 95.19h1.12V98.56h-1.12Z"/><path fill="#089981" d="M440.57 96.98h0.6V100.92h-0.6ZM440.31 97.21h1.12V98.56h-1.12ZM441.12 90.37h0.6V98.07h-0.6ZM440.86 92.31h1.12V97.21h-1.12Z"/><path fill="#f23645" d="M441.67 90.34h0.6V96.74h-0.6ZM441.41 92.31h1.12V96.09h-1.12Z"/><path fill="#089981" d="M442.22 89.42h0.6V96.79h-0.6ZM441.96 91.91h1.12V96.09h-1.12ZM442.76 89.71h0.6V93.41h-0.6ZM442.50 90.35h1.12V91.91h-1.12ZM443.31 85.59h0.6V91.50h-0.6ZM443.05 87.07h1.12V90.35h-1.12ZM443.86 84.06h0.6V87.34h-0.6ZM443.60 86.68h1.12V87.28h-1.12ZM444.41 81.16h0.6V87.43h-0.6ZM444.15 84.51h1.12V86.90h-1.12Z"/><path fill="#f23645" d="M444.96 83.70h0.6V97.34h-0.6ZM444.70 84.51h1.12V93.85h-1.12ZM445.51 93.81h0.6V98.53h-0.6ZM445.25 93.85h1.12V98.39h-1.12Z"/><path fill="#089981" d="M446.06 97.14h0.6V107.43h-0.6ZM445.80 97.84h1.12V98.44h-1.12Z"/><path fill="#f23645" d="M446.61 95.06h0.6V101.11h-0.6ZM446.35 97.89h1.12V100.38h-1.12ZM447.16 98.86h0.6V106.12h-0.6ZM446.90 100.38h1.12V105.13h-1.12Z"/><path fill="#089981" d="M447.71 102.66h0.6V106.09h-0.6ZM447.45 102.81h1.12V105.13h-1.12ZM448.26 97.36h0.6V104.44h-0.6ZM448.00 98.76h1.12V102.81h-1.12ZM448.81 93.50h0.6V100.11h-0.6ZM448.55 95.16h1.12V98.76h-1.12Z"/><path fill="#f23645" d="M449.36 94.46h0.6V97.09h-0.6ZM449.10 95.16h1.12V96.33h-1.12ZM449.91 92.85h0.6V104.27h-0.6ZM449.65 96.33h1.12V103.84h-1.12ZM450.46 103.57h0.6V106.18h-0.6ZM450.20 103.84h1.12V105.40h-1.12Z"/><path fill="#089981" d="M451.01 103.80h0.6V107.60h-0.6ZM450.75 105.00h1.12V105.60h-1.12Z"/><path fill="#f23645" d="M451.56 104.75h0.6V107.67h-0.6ZM451.30 105.20h1.12V106.46h-1.12Z"/><path fill="#089981" d="M452.11 100.08h0.6V108.71h-0.6ZM451.85 101.10h1.12V106.46h-1.12Z"/><path fill="#f23645" d="M452.66 101.02h0.6V103.50h-0.6ZM452.40 101.10h1.12V103.32h-1.12Z"/><path fill="#089981" d="M453.21 95.97h0.6V108.21h-0.6ZM452.95 96.27h1.12V103.32h-1.12Z"/><path fill="#f23645" d="M453.76 95.01h0.6V98.14h-0.6ZM453.50 96.27h1.12V97.22h-1.12Z"/><path fill="#089981" d="M454.31 93.79h0.6V97.87h-0.6ZM454.05 94.06h1.12V97.22h-1.12ZM454.86 92.81h0.6V94.36h-0.6ZM454.60 93.73h1.12V94.33h-1.12ZM455.41 88.58h0.6V94.16h-0.6ZM455.15 90.54h1.12V94.00h-1.12Z"/><path fill="#f23645" d="M455.96 88.36h0.6V103.48h-0.6ZM455.70 90.54h1.12V99.23h-1.12ZM456.50 98.48h0.6V100.65h-0.6ZM456.24 99.23h1.12V100.20h-1.12ZM457.05 100.18h0.6V109.54h-0.6ZM456.79 100.20h1.12V106.81h-1.12Z"/><path fill="#089981" d="M457.60 103.67h0.6V108.86h-0.6ZM457.34 104.75h1.12V106.81h-1.12ZM458.15 101.23h0.6V106.37h-0.6ZM457.89 103.32h1.12V104.75h-1.12Z"/><path fill="#f23645" d="M458.70 101.55h0.6V104.54h-0.6ZM458.44 103.18h1.12V103.78h-1.12Z"/><path fill="#089981" d="M459.25 101.01h0.6V112.83h-0.6ZM458.99 103.22h1.12V103.82h-1.12ZM459.80 94.32h0.6V105.81h-0.6ZM459.54 97.60h1.12V103.41h-1.12ZM460.35 92.40h0.6V98.56h-0.6ZM460.09 93.36h1.12V97.60h-1.12ZM460.90 87.48h0.6V93.49h-0.6ZM460.64 90.18h1.12V93.36h-1.12ZM461.45 85.61h0.6V91.22h-0.6ZM461.19 87.62h1.12V90.18h-1.12Z"/><path fill="#f23645" d="M462.00 86.44h0.6V90.95h-0.6ZM461.74 87.62h1.12V89.29h-1.12ZM462.55 88.75h0.6V93.50h-0.6ZM462.29 89.29h1.12V92.07h-1.12Z"/><path fill="#089981" d="M463.10 79.66h0.6V94.99h-0.6ZM462.84 90.70h1.12V92.07h-1.12ZM463.65 79.95h0.6V92.32h-0.6ZM463.39 84.43h1.12V90.70h-1.12Z"/><path fill="#f23645" d="M464.20 84.24h0.6V85.85h-0.6ZM463.94 84.43h1.12V85.80h-1.12Z"/><path fill="#089981" d="M464.75 83.82h0.6V86.33h-0.6ZM464.49 85.05h1.12V85.80h-1.12Z"/><path fill="#f23645" d="M465.30 84.31h0.6V89.91h-0.6ZM465.04 85.05h1.12V86.44h-1.12ZM465.85 86.29h0.6V93.40h-0.6ZM465.59 86.44h1.12V91.62h-1.12Z"/><path fill="#089981" d="M466.40 89.45h0.6V92.94h-0.6ZM466.14 89.99h1.12V91.62h-1.12Z"/><path fill="#f23645" d="M466.95 89.03h0.6V97.89h-0.6ZM466.69 89.99h1.12V90.86h-1.12Z"/><path fill="#089981" d="M467.50 88.19h0.6V91.33h-0.6ZM467.24 88.74h1.12V90.86h-1.12Z"/><path fill="#f23645" d="M468.05 87.36h0.6V90.64h-0.6ZM467.79 88.74h1.12V90.33h-1.12Z"/><path fill="#089981" d="M468.60 84.49h0.6V91.77h-0.6ZM468.34 86.60h1.12V90.33h-1.12Z"/><path fill="#f23645" d="M469.15 86.01h0.6V89.35h-0.6ZM468.89 86.60h1.12V87.37h-1.12ZM469.70 86.30h0.6V94.05h-0.6ZM469.44 87.37h1.12V93.12h-1.12ZM470.24 92.61h0.6V102.43h-0.6ZM469.98 93.12h1.12V97.97h-1.12Z"/><path fill="#089981" d="M470.79 90.14h0.6V109.21h-0.6ZM470.53 91.91h1.12V97.97h-1.12Z"/><path fill="#f23645" d="M471.34 89.63h0.6V100.83h-0.6ZM471.08 91.91h1.12V97.72h-1.12Z"/><path fill="#089981" d="M471.89 95.23h0.6V99.51h-0.6ZM471.63 96.71h1.12V97.72h-1.12Z"/><path fill="#f23645" d="M472.44 95.91h0.6V100.14h-0.6ZM472.18 96.71h1.12V99.04h-1.12ZM472.99 98.23h0.6V99.92h-0.6ZM472.73 99.04h1.12V99.91h-1.12Z"/><path fill="#089981" d="M473.54 99.17h0.6V100.59h-0.6ZM473.28 99.42h1.12V100.02h-1.12Z"/><path fill="#f23645" d="M474.09 98.39h0.6V100.41h-0.6ZM473.83 99.51h1.12V100.11h-1.12ZM474.64 98.94h0.6V103.78h-0.6ZM474.38 100.08h1.12V102.86h-1.12Z"/><path fill="#089981" d="M475.19 98.39h0.6V105.59h-0.6ZM474.93 99.06h1.12V102.86h-1.12ZM475.74 95.69h0.6V99.73h-0.6ZM475.48 97.72h1.12V99.06h-1.12Z"/><path fill="#f23645" d="M476.29 96.83h0.6V99.29h-0.6ZM476.03 97.72h1.12V98.85h-1.12Z"/><path fill="#089981" d="M476.84 94.03h0.6V99.41h-0.6ZM476.58 98.28h1.12V98.88h-1.12Z"/><path fill="#f23645" d="M477.39 97.90h0.6V100.66h-0.6ZM477.13 98.31h1.12V99.39h-1.12Z"/><path fill="#089981" d="M477.94 95.73h0.6V99.89h-0.6ZM477.68 98.86h1.12V99.46h-1.12Z"/><path fill="#f23645" d="M478.49 98.15h0.6V101.98h-0.6ZM478.23 98.92h1.12V101.18h-1.12Z"/><path fill="#089981" d="M479.04 97.93h0.6V102.91h-0.6ZM478.78 99.87h1.12V101.18h-1.12Z"/><path fill="#f23645" d="M479.59 98.17h0.6V105.09h-0.6ZM479.33 99.87h1.12V104.05h-1.12Z"/><path fill="#089981" d="M480.14 103.21h0.6V105.37h-0.6ZM479.88 103.60h1.12V104.20h-1.12ZM480.69 94.99h0.6V104.78h-0.6ZM480.43 100.58h1.12V103.75h-1.12ZM481.24 96.89h0.6V101.25h-0.6ZM480.98 98.28h1.12V100.58h-1.12Z"/><path fill="#f23645" d="M481.79 96.89h0.6V102.07h-0.6ZM481.53 98.28h1.12V100.41h-1.12ZM482.34 99.80h0.6V110.89h-0.6ZM482.08 100.41h1.12V108.59h-1.12ZM482.89 106.90h0.6V118.80h-0.6ZM482.63 108.59h1.12V113.75h-1.12ZM483.44 112.05h0.6V123.32h-0.6ZM483.18 113.75h1.12V122.25h-1.12Z"/><path fill="#089981" d="M483.98 120.53h0.6V122.52h-0.6ZM483.72 121.28h1.12V122.25h-1.12Z"/><path fill="#f23645" d="M484.53 120.51h0.6V134.32h-0.6ZM484.27 121.28h1.12V121.96h-1.12Z"/><path fill="#089981" d="M485.08 117.71h0.6V122.53h-0.6ZM484.82 118.70h1.12V121.96h-1.12ZM485.63 102.55h0.6V120.77h-0.6ZM485.37 103.84h1.12V118.70h-1.12Z"/><path fill="#f23645" d="M486.18 102.06h0.6V118.78h-0.6ZM485.92 103.84h1.12V118.42h-1.12Z"/><path fill="#089981" d="M486.73 113.38h0.6V127.57h-0.6ZM486.47 116.35h1.12V118.42h-1.12ZM487.28 115.35h0.6V116.43h-0.6ZM487.02 115.94h1.12V116.54h-1.12ZM487.83 106.37h0.6V116.83h-0.6ZM487.57 111.47h1.12V116.13h-1.12Z"/><path fill="#f23645" d="M488.38 109.83h0.6V118.54h-0.6ZM488.12 111.47h1.12V116.33h-1.12ZM488.93 115.78h0.6V120.77h-0.6ZM488.67 116.33h1.12V118.42h-1.12ZM489.48 117.58h0.6V130.41h-0.6ZM489.22 118.42h1.12V129.18h-1.12ZM490.03 122.83h0.6V137.69h-0.6ZM489.77 129.18h1.12V133.48h-1.12Z"/><path fill="#089981" d="M490.58 123.49h0.6V134.18h-0.6ZM490.32 124.79h1.12V133.48h-1.12ZM491.13 121.67h0.6V125.03h-0.6ZM490.87 124.31h1.12V124.91h-1.12Z"/><path fill="#f23645" d="M491.68 123.01h0.6V129.04h-0.6ZM491.42 124.44h1.12V128.37h-1.12Z"/><path fill="#089981" d="M492.23 118.08h0.6V129.69h-0.6ZM491.97 122.64h1.12V128.37h-1.12ZM492.78 119.63h0.6V126.68h-0.6ZM492.52 120.03h1.12V122.64h-1.12Z"/><path fill="#f23645" d="M493.33 119.44h0.6V122.64h-0.6ZM493.07 120.03h1.12V122.48h-1.12ZM493.88 122.32h0.6V125.01h-0.6ZM493.62 122.21h1.12V122.81h-1.12Z"/><path fill="#089981" d="M494.43 119.74h0.6V122.78h-0.6ZM494.17 120.12h1.12V122.54h-1.12ZM494.98 115.61h0.6V121.34h-0.6ZM494.72 117.19h1.12V120.12h-1.12Z"/><path fill="#f23645" d="M495.53 117.11h0.6V121.54h-0.6ZM495.27 117.19h1.12V121.51h-1.12ZM496.08 120.78h0.6V123.44h-0.6ZM495.82 121.51h1.12V122.54h-1.12Z"/><path fill="#089981" d="M496.63 121.28h0.6V124.41h-0.6ZM496.37 121.44h1.12V122.54h-1.12ZM497.18 119.37h0.6V122.46h-0.6ZM496.92 120.11h1.12V121.44h-1.12ZM497.72 113.57h0.6V121.62h-0.6ZM497.46 115.97h1.12V120.11h-1.12Z"/><path fill="#f23645" d="M498.27 115.38h0.6V119.19h-0.6ZM498.01 115.97h1.12V118.56h-1.12Z"/><path fill="#089981" d="M498.82 116.24h0.6V118.86h-0.6ZM498.56 117.10h1.12V118.56h-1.12Z"/><path fill="#f23645" d="M499.37 113.32h0.6V118.59h-0.6ZM499.11 117.10h1.12V118.37h-1.12ZM499.92 118.02h0.6V122.08h-0.6ZM499.66 118.37h1.12V121.86h-1.12Z"/><path fill="#089981" d="M500.47 120.21h0.6V123.86h-0.6ZM500.21 121.36h1.12V121.96h-1.12Z"/><path fill="#f23645" d="M501.02 121.23h0.6V127.51h-0.6ZM500.76 121.46h1.12V126.48h-1.12Z"/><path fill="#089981" d="M501.57 124.31h0.6V127.07h-0.6ZM501.31 125.48h1.12V126.48h-1.12Z"/><path fill="#f23645" d="M502.12 123.70h0.6V128.29h-0.6ZM501.86 125.48h1.12V126.64h-1.12Z"/><path fill="#089981" d="M502.67 114.12h0.6V128.80h-0.6ZM502.41 125.58h1.12V126.64h-1.12ZM503.22 122.74h0.6V127.84h-0.6ZM502.96 124.46h1.12V125.58h-1.12ZM503.77 121.95h0.6V127.25h-0.6ZM503.51 122.93h1.12V124.46h-1.12Z"/><path fill="#f23645" d="M504.32 120.98h0.6V129.45h-0.6ZM504.06 122.93h1.12V127.40h-1.12ZM504.87 126.60h0.6V137.15h-0.6ZM504.61 127.40h1.12V133.90h-1.12Z"/><path fill="#089981" d="M505.42 128.17h0.6V142.23h-0.6ZM505.16 132.35h1.12V133.90h-1.12Z"/><path fill="#f23645" d="M505.97 131.54h0.6V138.54h-0.6ZM505.71 132.35h1.12V138.33h-1.12Z"/><path fill="#089981" d="M506.52 123.42h0.6V142.01h-0.6ZM506.26 125.38h1.12V138.33h-1.12Z"/><path fill="#f23645" d="M507.07 123.59h0.6V131.55h-0.6ZM506.81 125.38h1.12V131.42h-1.12Z"/><path fill="#089981" d="M507.62 125.87h0.6V131.56h-0.6ZM507.36 127.00h1.12V131.42h-1.12ZM508.17 117.72h0.6V128.65h-0.6ZM507.91 120.13h1.12V127.00h-1.12ZM508.72 113.64h0.6V120.59h-0.6ZM508.46 118.76h1.12V120.13h-1.12Z"/><path fill="#f23645" d="M509.27 116.62h0.6V123.39h-0.6ZM509.01 118.76h1.12V121.51h-1.12ZM509.82 118.71h0.6V124.23h-0.6ZM509.56 121.51h1.12V123.32h-1.12Z"/><path fill="#089981" d="M510.37 118.78h0.6V123.35h-0.6ZM510.11 119.76h1.12V123.32h-1.12ZM510.92 115.61h0.6V120.07h-0.6ZM510.66 118.73h1.12V119.76h-1.12Z"/><path fill="#f23645" d="M511.46 117.25h0.6V125.36h-0.6ZM511.20 118.73h1.12V121.77h-1.12Z"/><path fill="#089981" d="M512.01 120.35h0.6V123.13h-0.6ZM511.75 120.68h1.12V121.77h-1.12ZM512.56 118.15h0.6V122.21h-0.6ZM512.30 120.20h1.12V120.80h-1.12ZM513.11 114.90h0.6V123.44h-0.6ZM512.85 115.97h1.12V120.32h-1.12ZM513.66 103.56h0.6V116.86h-0.6ZM513.40 105.23h1.12V115.97h-1.12Z"/><path fill="#f23645" d="M514.21 101.86h0.6V110.20h-0.6ZM513.95 105.23h1.12V108.30h-1.12Z"/><path fill="#089981" d="M514.76 104.02h0.6V109.00h-0.6ZM514.50 106.28h1.12V108.30h-1.12ZM515.31 102.25h0.6V109.93h-0.6ZM515.05 103.07h1.12V106.28h-1.12ZM515.86 97.48h0.6V103.18h-0.6ZM515.60 101.59h1.12V103.07h-1.12ZM516.41 100.52h0.6V105.14h-0.6ZM516.15 100.88h1.12V101.59h-1.12Z"/><path fill="#f23645" d="M516.96 97.94h0.6V106.41h-0.6ZM516.70 100.88h1.12V102.63h-1.12ZM517.51 102.41h0.6V106.20h-0.6ZM517.25 102.63h1.12V104.58h-1.12Z"/><path fill="#089981" d="M518.06 101.27h0.6V105.42h-0.6ZM517.80 103.50h1.12V104.58h-1.12ZM518.61 99.40h0.6V103.80h-0.6ZM518.35 99.99h1.12V103.50h-1.12Z"/><path fill="#f23645" d="M519.16 99.32h0.6V102.96h-0.6ZM518.90 99.99h1.12V100.92h-1.12ZM519.71 97.74h0.6V102.43h-0.6ZM519.45 100.92h1.12V101.69h-1.12Z"/><path fill="#089981" d="M520.26 96.44h0.6V102.12h-0.6ZM520.00 99.84h1.12V101.69h-1.12Z"/><path fill="#f23645" d="M520.81 99.78h0.6V103.27h-0.6ZM520.55 99.84h1.12V102.98h-1.12Z"/><path fill="#089981" d="M521.36 97.82h0.6V103.15h-0.6ZM521.10 100.79h1.12V102.98h-1.12ZM521.91 98.63h0.6V102.03h-0.6ZM521.65 99.06h1.12V100.79h-1.12ZM522.46 88.92h0.6V99.79h-0.6ZM522.20 88.95h1.12V99.06h-1.12ZM523.01 85.97h0.6V94.19h-0.6ZM522.75 86.31h1.12V88.95h-1.12Z"/><path fill="#f23645" d="M523.56 85.66h0.6V88.10h-0.6ZM523.30 86.19h1.12V86.79h-1.12ZM524.11 83.52h0.6V90.24h-0.6ZM523.85 86.68h1.12V88.81h-1.12ZM524.66 84.97h0.6V90.85h-0.6ZM524.40 88.81h1.12V89.67h-1.12Z"/><path fill="#089981" d="M525.20 87.34h0.6V90.79h-0.6ZM524.94 88.69h1.12V89.67h-1.12Z"/><path fill="#f23645" d="M525.75 86.37h0.6V90.98h-0.6ZM525.49 88.69h1.12V89.31h-1.12Z"/><path fill="#089981" d="M526.30 85.95h0.6V90.14h-0.6ZM526.04 88.17h1.12V89.31h-1.12ZM526.85 87.97h0.6V89.38h-0.6ZM526.59 87.77h1.12V88.37h-1.12ZM527.40 85.08h0.6V89.36h-0.6ZM527.14 86.65h1.12V87.98h-1.12ZM527.95 83.20h0.6V87.62h-0.6ZM527.69 83.97h1.12V86.65h-1.12Z"/><path fill="#f23645" d="M528.50 82.98h0.6V90.94h-0.6ZM528.24 83.97h1.12V85.28h-1.12Z"/><path fill="#089981" d="M529.05 80.81h0.6V85.43h-0.6ZM528.79 82.65h1.12V85.28h-1.12ZM529.60 78.02h0.6V82.71h-0.6ZM529.34 79.06h1.12V82.65h-1.12ZM530.15 75.68h0.6V81.02h-0.6ZM529.89 76.11h1.12V79.06h-1.12Z"/><path fill="#f23645" d="M530.70 75.57h0.6V86.56h-0.6ZM530.44 76.11h1.12V84.74h-1.12Z"/><path fill="#089981" d="M531.25 80.74h0.6V84.90h-0.6ZM530.99 81.92h1.12V84.74h-1.12Z"/><path fill="#f23645" d="M531.80 81.73h0.6V83.94h-0.6ZM531.54 81.92h1.12V83.00h-1.12Z"/><path fill="#089981" d="M532.35 80.01h0.6V85.07h-0.6ZM532.09 82.28h1.12V83.00h-1.12ZM532.90 79.52h0.6V84.06h-0.6ZM532.64 80.11h1.12V82.28h-1.12Z"/><path fill="#f23645" d="M533.45 75.68h0.6V86.95h-0.6ZM533.19 80.11h1.12V85.04h-1.12ZM534.00 83.13h0.6V86.41h-0.6ZM533.74 84.82h1.12V85.42h-1.12Z"/><path fill="#089981" d="M534.55 82.79h0.6V89.24h-0.6ZM534.29 83.67h1.12V85.20h-1.12Z"/><path fill="#f23645" d="M535.10 81.46h0.6V88.11h-0.6ZM534.84 83.67h1.12V86.83h-1.12Z"/><path fill="#089981" d="M535.65 84.24h0.6V87.63h-0.6ZM535.39 85.33h1.12V86.83h-1.12ZM536.20 80.95h0.6V85.50h-0.6ZM535.94 81.46h1.12V85.33h-1.12Z"/><path fill="#f23645" d="M536.75 81.46h0.6V88.64h-0.6ZM536.49 81.46h1.12V85.59h-1.12ZM537.30 83.18h0.6V87.92h-0.6ZM537.04 85.59h1.12V87.85h-1.12ZM537.85 84.82h0.6V93.52h-0.6ZM537.59 87.85h1.12V91.66h-1.12Z"/><path fill="#089981" d="M538.40 87.55h0.6V91.93h-0.6ZM538.14 88.43h1.12V91.66h-1.12ZM538.94 84.48h0.6V90.08h-0.6ZM538.68 85.28h1.12V88.43h-1.12ZM539.49 77.27h0.6V85.74h-0.6ZM539.23 79.73h1.12V85.28h-1.12ZM540.04 77.88h0.6V80.25h-0.6ZM539.78 78.17h1.12V79.73h-1.12ZM540.59 76.28h0.6V79.48h-0.6ZM540.33 77.63h1.12V78.23h-1.12Z"/><path fill="#f23645" d="M541.14 76.00h0.6V82.38h-0.6ZM540.88 77.69h1.12V80.56h-1.12Z"/><path fill="#089981" d="M541.69 76.42h0.6V83.39h-0.6ZM541.43 80.24h1.12V80.84h-1.12Z"/><path fill="#f23645" d="M542.24 80.52h0.6V89.83h-0.6ZM541.98 80.52h1.12V84.51h-1.12ZM542.79 82.90h0.6V90.90h-0.6ZM542.53 84.51h1.12V86.24h-1.12Z"/><path fill="#089981" d="M543.34 80.17h0.6V86.47h-0.6ZM543.08 83.16h1.12V86.24h-1.12Z"/><path fill="#f23645" d="M543.89 80.79h0.6V83.51h-0.6ZM543.63 83.00h1.12V83.60h-1.12ZM544.44 81.79h0.6V87.23h-0.6ZM544.18 83.44h1.12V86.83h-1.12Z"/><path fill="#089981" d="M544.99 84.46h0.6V89.16h-0.6ZM544.73 86.11h1.12V86.83h-1.12Z"/><path fill="#f23645" d="M545.54 85.72h0.6V88.62h-0.6ZM545.28 86.11h1.12V87.95h-1.12ZM546.09 86.62h0.6V90.35h-0.6ZM545.83 87.95h1.12V88.88h-1.12ZM546.64 87.34h0.6V92.12h-0.6ZM546.38 88.88h1.12V91.73h-1.12ZM547.19 88.72h0.6V97.14h-0.6ZM546.93 91.73h1.12V92.63h-1.12Z"/><path fill="#089981" d="M547.74 81.93h0.6V95.33h-0.6ZM547.48 85.59h1.12V92.63h-1.12ZM548.29 83.77h0.6V87.52h-0.6ZM548.03 84.22h1.12V85.59h-1.12ZM548.84 82.33h0.6V84.39h-0.6ZM548.58 82.60h1.12V84.22h-1.12Z"/><path fill="#f23645" d="M549.39 81.68h0.6V85.30h-0.6ZM549.13 82.60h1.12V83.43h-1.12Z"/><path fill="#089981" d="M549.94 79.70h0.6V85.49h-0.6ZM549.68 80.61h1.12V83.43h-1.12Z"/><path fill="#f23645" d="M550.49 80.30h0.6V82.84h-0.6ZM550.23 80.61h1.12V82.35h-1.12ZM551.04 81.20h0.6V85.99h-0.6ZM550.78 82.35h1.12V84.50h-1.12Z"/><path fill="#089981" d="M551.59 80.14h0.6V86.87h-0.6ZM551.33 82.90h1.12V84.50h-1.12Z"/><path fill="#f23645" d="M552.14 82.30h0.6V86.82h-0.6ZM551.88 82.90h1.12V85.13h-1.12Z"/><path fill="#089981" d="M552.68 78.57h0.6V85.47h-0.6ZM552.42 81.72h1.12V85.13h-1.12ZM553.23 78.84h0.6V84.09h-0.6ZM552.97 79.21h1.12V81.72h-1.12Z"/><path fill="#f23645" d="M553.78 77.05h0.6V81.09h-0.6ZM553.52 79.21h1.12V80.73h-1.12ZM554.33 79.94h0.6V82.16h-0.6ZM554.07 80.73h1.12V81.42h-1.12Z"/><path fill="#089981" d="M554.88 78.75h0.6V82.70h-0.6ZM554.62 79.81h1.12V81.42h-1.12ZM555.43 76.52h0.6V80.49h-0.6ZM555.17 77.47h1.12V79.81h-1.12Z"/><path fill="#f23645" d="M555.98 75.54h0.6V79.92h-0.6ZM555.72 77.47h1.12V79.22h-1.12Z"/><path fill="#089981" d="M556.53 76.49h0.6V83.87h-0.6ZM556.27 76.70h1.12V79.22h-1.12ZM557.08 66.46h0.6V77.33h-0.6ZM556.82 69.95h1.12V76.70h-1.12ZM557.63 66.05h0.6V72.99h-0.6ZM557.37 67.78h1.12V69.95h-1.12ZM558.18 64.76h0.6V67.83h-0.6ZM557.92 65.17h1.12V67.78h-1.12Z"/><path fill="#f23645" d="M558.73 64.21h0.6V66.33h-0.6ZM558.47 65.11h1.12V65.71h-1.12Z"/><path fill="#089981" d="M559.28 60.12h0.6V66.89h-0.6ZM559.02 64.62h1.12V65.64h-1.12Z"/><path fill="#f23645" d="M559.83 64.48h0.6V70.37h-0.6ZM559.57 64.62h1.12V67.50h-1.12Z"/><path fill="#089981" d="M560.38 64.01h0.6V67.74h-0.6ZM560.12 65.13h1.12V67.50h-1.12Z"/><path fill="#f23645" d="M560.93 64.91h0.6V66.18h-0.6ZM560.67 65.02h1.12V65.62h-1.12ZM561.48 63.42h0.6V68.71h-0.6ZM561.22 65.51h1.12V67.72h-1.12Z"/><path fill="#089981" d="M562.03 66.59h0.6V67.99h-0.6ZM561.77 66.97h1.12V67.72h-1.12ZM562.58 63.53h0.6V67.54h-0.6ZM562.32 64.86h1.12V66.97h-1.12Z"/><path fill="#f23645" d="M563.13 63.73h0.6V68.36h-0.6ZM562.87 64.86h1.12V67.99h-1.12ZM563.68 67.35h0.6V70.26h-0.6ZM563.42 67.71h1.12V68.31h-1.12ZM564.23 65.52h0.6V72.06h-0.6ZM563.97 68.04h1.12V71.52h-1.12Z"/><path fill="#089981" d="M564.78 64.98h0.6V72.14h-0.6ZM564.52 66.67h1.12V71.52h-1.12Z"/><path fill="#f23645" d="M565.33 66.60h0.6V71.79h-0.6ZM565.07 66.67h1.12V67.71h-1.12ZM565.88 67.34h0.6V70.20h-0.6ZM565.62 67.71h1.12V68.68h-1.12Z"/><path fill="#089981" d="M566.42 64.66h0.6V69.01h-0.6ZM566.16 65.23h1.12V68.68h-1.12Z"/><path fill="#f23645" d="M566.97 63.86h0.6V71.80h-0.6ZM566.71 65.23h1.12V69.73h-1.12ZM567.52 68.39h0.6V71.01h-0.6ZM567.26 69.73h1.12V70.42h-1.12Z"/><path fill="#089981" d="M568.07 65.97h0.6V72.11h-0.6ZM567.81 67.43h1.12V70.42h-1.12Z"/><path fill="#f23645" d="M568.62 65.97h0.6V71.29h-0.6ZM568.36 67.43h1.12V70.30h-1.12ZM569.17 69.80h0.6V78.00h-0.6ZM568.91 70.30h1.12V75.34h-1.12Z"/><path fill="#089981" d="M569.72 74.40h0.6V77.10h-0.6ZM569.46 74.81h1.12V75.41h-1.12ZM570.27 70.78h0.6V75.19h-0.6ZM570.01 72.57h1.12V74.88h-1.12ZM570.82 71.25h0.6V72.64h-0.6ZM570.56 71.82h1.12V72.57h-1.12Z"/><path fill="#f23645" d="M571.37 70.17h0.6V74.55h-0.6ZM571.11 71.82h1.12V72.57h-1.12Z"/><path fill="#089981" d="M571.92 65.94h0.6V74.91h-0.6ZM571.66 66.26h1.12V72.57h-1.12ZM572.47 63.71h0.6V68.52h-0.6ZM572.21 65.36h1.12V66.26h-1.12Z"/><path fill="#f23645" d="M573.02 65.00h0.6V70.81h-0.6ZM572.76 65.36h1.12V68.97h-1.12Z"/><path fill="#089981" d="M573.57 63.36h0.6V69.91h-0.6ZM573.31 63.80h1.12V68.97h-1.12Z"/><path fill="#f23645" d="M574.12 62.32h0.6V68.93h-0.6ZM573.86 63.80h1.12V65.37h-1.12ZM574.67 61.31h0.6V68.04h-0.6ZM574.41 65.37h1.12V66.19h-1.12Z"/><path fill="#089981" d="M575.22 60.07h0.6V69.38h-0.6ZM574.96 60.80h1.12V66.19h-1.12ZM575.77 59.68h0.6V62.14h-0.6ZM575.51 59.92h1.12V60.80h-1.12Z"/><path fill="#f23645" d="M576.32 58.40h0.6V68.27h-0.6ZM576.06 59.92h1.12V66.67h-1.12ZM576.87 66.39h0.6V68.96h-0.6ZM576.61 66.67h1.12V68.04h-1.12Z"/><path fill="#089981" d="M577.42 64.55h0.6V68.39h-0.6ZM577.16 66.49h1.12V68.04h-1.12Z"/><path fill="#f23645" d="M577.97 63.62h0.6V68.81h-0.6ZM577.71 66.49h1.12V67.92h-1.12ZM578.52 67.11h0.6V73.58h-0.6ZM578.26 67.92h1.12V70.78h-1.12ZM579.07 69.33h0.6V75.03h-0.6ZM578.81 70.78h1.12V74.44h-1.12Z"/><path fill="#089981" d="M579.62 73.68h0.6V74.49h-0.6ZM579.36 73.98h1.12V74.58h-1.12Z"/><path fill="#f23645" d="M580.16 71.94h0.6V77.38h-0.6ZM579.90 74.12h1.12V74.95h-1.12Z"/><path fill="#089981" d="M580.71 67.82h0.6V75.42h-0.6ZM580.45 68.69h1.12V74.95h-1.12Z"/><path fill="#f23645" d="M581.26 66.81h0.6V75.79h-0.6ZM581.00 68.69h1.12V73.32h-1.12ZM581.81 72.44h0.6V75.54h-0.6ZM581.55 73.15h1.12V73.75h-1.12ZM582.36 72.47h0.6V81.63h-0.6ZM582.10 73.58h1.12V78.47h-1.12Z"/><path fill="#089981" d="M582.91 77.78h0.6V79.13h-0.6ZM582.65 77.82h1.12V78.47h-1.12ZM583.46 76.09h0.6V78.86h-0.6ZM583.20 76.77h1.12V77.82h-1.12Z"/><path fill="#f23645" d="M584.01 75.01h0.6V86.61h-0.6ZM583.75 76.77h1.12V81.45h-1.12Z"/><path fill="#089981" d="M584.56 80.82h0.6V81.65h-0.6ZM584.30 80.93h1.12V81.53h-1.12ZM585.11 79.12h0.6V81.51h-0.6ZM584.85 80.42h1.12V81.02h-1.12ZM585.66 79.07h0.6V81.79h-0.6ZM585.40 80.05h1.12V80.65h-1.12ZM586.21 78.77h0.6V82.67h-0.6ZM585.95 79.70h1.12V80.30h-1.12Z"/><path fill="#f23645" d="M586.76 79.61h0.6V82.73h-0.6ZM586.50 79.73h1.12V81.35h-1.12Z"/><path fill="#089981" d="M587.31 75.66h0.6V83.41h-0.6ZM587.05 76.11h1.12V81.35h-1.12Z"/><path fill="#f23645" d="M587.86 73.86h0.6V80.39h-0.6ZM587.60 76.11h1.12V79.57h-1.12Z"/><path fill="#089981" d="M588.41 73.65h0.6V79.74h-0.6ZM588.15 77.66h1.12V79.57h-1.12Z"/><path fill="#f23645" d="M588.96 77.13h0.6V79.98h-0.6ZM588.70 77.66h1.12V78.38h-1.12Z"/><path fill="#089981" d="M589.51 77.09h0.6V80.31h-0.6ZM589.25 77.47h1.12V78.38h-1.12ZM590.06 75.17h0.6V78.87h-0.6ZM589.80 75.60h1.12V77.47h-1.12ZM590.61 71.68h0.6V75.96h-0.6ZM590.35 72.49h1.12V75.60h-1.12Z"/><path fill="#f23645" d="M591.16 71.42h0.6V74.76h-0.6ZM590.90 72.38h1.12V72.98h-1.12Z"/><path fill="#089981" d="M591.71 67.79h0.6V74.26h-0.6ZM591.45 68.84h1.12V72.86h-1.12Z"/><path fill="#f23645" d="M592.26 68.38h0.6V71.59h-0.6ZM592.00 68.84h1.12V69.88h-1.12Z"/><path fill="#089981" d="M592.81 69.01h0.6V71.26h-0.6ZM592.55 69.32h1.12V69.92h-1.12Z"/><path fill="#f23645" d="M593.36 68.77h0.6V71.38h-0.6ZM593.10 69.37h1.12V70.94h-1.12Z"/><path fill="#089981" d="M593.90 65.80h0.6V71.63h-0.6ZM593.64 68.77h1.12V70.94h-1.12Z"/><path fill="#f23645" d="M594.45 66.21h0.6V69.56h-0.6ZM594.19 68.50h1.12V69.10h-1.12ZM595.00 66.69h0.6V75.98h-0.6ZM594.74 68.83h1.12V72.13h-1.12Z"/><path fill="#089981" d="M595.55 67.30h0.6V75.44h-0.6ZM595.29 68.41h1.12V72.13h-1.12Z"/><path fill="#f23645" d="M596.10 67.23h0.6V70.14h-0.6ZM595.84 68.12h1.12V68.72h-1.12ZM596.65 67.79h0.6V71.06h-0.6ZM596.39 68.43h1.12V70.71h-1.12ZM597.20 70.30h0.6V71.43h-0.6ZM596.94 70.56h1.12V71.16h-1.12ZM597.75 70.51h0.6V75.54h-0.6ZM597.49 71.01h1.12V74.66h-1.12Z"/><path fill="#089981" d="M598.30 73.20h0.6V76.60h-0.6ZM598.04 73.80h1.12V74.66h-1.12Z"/><path fill="#f23645" d="M598.85 72.79h0.6V78.71h-0.6ZM598.59 73.80h1.12V78.09h-1.12ZM599.40 76.21h0.6V81.28h-0.6ZM599.14 78.09h1.12V80.11h-1.12Z"/><path fill="#089981" d="M599.95 76.89h0.6V80.43h-0.6ZM599.69 79.14h1.12V80.11h-1.12ZM600.50 76.16h0.6V79.64h-0.6ZM600.24 77.28h1.12V79.14h-1.12ZM601.05 74.65h0.6V78.29h-0.6ZM600.79 75.46h1.12V77.28h-1.12ZM601.60 71.20h0.6V76.07h-0.6ZM601.34 71.77h1.12V75.46h-1.12Z"/><path fill="#f23645" d="M602.15 71.32h0.6V73.61h-0.6ZM601.89 71.77h1.12V72.72h-1.12Z"/><path fill="#089981" d="M602.70 62.31h0.6V74.87h-0.6ZM602.44 66.33h1.12V72.72h-1.12ZM603.25 61.39h0.6V66.51h-0.6ZM602.99 62.66h1.12V66.33h-1.12ZM603.80 57.74h0.6V63.05h-0.6ZM603.54 61.38h1.12V62.66h-1.12ZM604.35 59.27h0.6V63.85h-0.6ZM604.09 60.17h1.12V61.38h-1.12ZM604.90 56.84h0.6V63.32h-0.6ZM604.64 59.65h1.12V60.25h-1.12ZM605.45 56.19h0.6V60.06h-0.6ZM605.19 58.14h1.12V59.72h-1.12Z"/><path fill="#f23645" d="M606.00 56.96h0.6V63.82h-0.6ZM605.74 58.14h1.12V62.52h-1.12Z"/><path fill="#089981" d="M606.55 60.69h0.6V63.43h-0.6ZM606.29 61.42h1.12V62.52h-1.12Z"/><path fill="#f23645" d="M607.10 61.05h0.6V63.40h-0.6ZM606.84 61.42h1.12V62.12h-1.12ZM607.64 61.05h0.6V87.77h-0.6ZM607.38 62.12h1.12V74.22h-1.12ZM608.19 73.41h0.6V78.89h-0.6ZM607.93 74.22h1.12V77.43h-1.12Z"/><path fill="#089981" d="M608.74 70.13h0.6V77.78h-0.6ZM608.48 74.59h1.12V77.43h-1.12ZM609.29 70.73h0.6V76.37h-0.6ZM609.03 71.01h1.12V74.59h-1.12Z"/><path fill="#f23645" d="M609.84 69.35h0.6V74.44h-0.6ZM609.58 71.01h1.12V74.08h-1.12ZM610.39 71.99h0.6V79.26h-0.6ZM610.13 74.08h1.12V77.68h-1.12ZM610.94 76.63h0.6V81.56h-0.6ZM610.68 77.68h1.12V81.31h-1.12ZM611.49 79.81h0.6V88.56h-0.6ZM611.23 81.31h1.12V83.97h-1.12ZM612.04 83.22h0.6V85.06h-0.6ZM611.78 83.97h1.12V84.65h-1.12Z"/><path fill="#089981" d="M612.59 79.87h0.6V89.74h-0.6ZM612.33 80.63h1.12V84.65h-1.12Z"/><path fill="#f23645" d="M613.14 78.03h0.6V85.33h-0.6ZM612.88 80.63h1.12V83.39h-1.12Z"/><path fill="#089981" d="M613.69 72.79h0.6V83.79h-0.6ZM613.43 81.01h1.12V83.39h-1.12Z"/><path fill="#f23645" d="M614.24 79.50h0.6V81.57h-0.6ZM613.98 80.99h1.12V81.59h-1.12Z"/><path fill="#089981" d="M614.79 76.57h0.6V82.24h-0.6ZM614.53 78.54h1.12V81.56h-1.12ZM615.34 73.21h0.6V81.95h-0.6ZM615.08 73.53h1.12V78.54h-1.12ZM615.89 71.26h0.6V75.27h-0.6ZM615.63 71.58h1.12V73.53h-1.12Z"/><path fill="#f23645" d="M616.44 70.37h0.6V72.87h-0.6ZM616.18 71.53h1.12V72.13h-1.12ZM616.99 69.39h0.6V73.12h-0.6ZM616.73 72.06h1.12V72.66h-1.12ZM617.54 69.12h0.6V76.45h-0.6ZM617.28 72.64h1.12V75.76h-1.12ZM618.09 74.76h0.6V79.01h-0.6ZM617.83 75.76h1.12V78.62h-1.12ZM618.64 78.42h0.6V84.81h-0.6ZM618.38 78.62h1.12V81.16h-1.12ZM619.19 78.60h0.6V84.97h-0.6ZM618.93 81.16h1.12V82.67h-1.12Z"/><path fill="#089981" d="M619.74 77.89h0.6V82.97h-0.6ZM619.48 81.24h1.12V82.67h-1.12ZM620.29 77.35h0.6V82.17h-0.6ZM620.03 77.80h1.12V81.24h-1.12Z"/><path fill="#f23645" d="M620.84 76.20h0.6V83.86h-0.6ZM620.58 77.80h1.12V83.82h-1.12ZM621.38 82.67h0.6V95.98h-0.6ZM621.12 83.82h1.12V91.75h-1.12ZM621.93 89.07h0.6V92.82h-0.6ZM621.67 91.75h1.12V92.62h-1.12Z"/><path fill="#089981" d="M622.48 91.45h0.6V93.33h-0.6ZM622.22 92.05h1.12V92.65h-1.12ZM623.03 91.03h0.6V94.93h-0.6ZM622.77 91.31h1.12V92.07h-1.12ZM623.58 89.51h0.6V92.87h-0.6ZM623.32 90.46h1.12V91.31h-1.12ZM624.13 86.09h0.6V92.47h-0.6ZM623.87 87.15h1.12V90.46h-1.12ZM624.68 84.24h0.6V89.17h-0.6ZM624.42 84.66h1.12V87.15h-1.12Z"/><path fill="#f23645" d="M625.23 83.26h0.6V89.95h-0.6ZM624.97 84.66h1.12V88.44h-1.12ZM625.78 86.80h0.6V92.50h-0.6ZM625.52 88.44h1.12V91.50h-1.12ZM626.33 90.20h0.6V95.19h-0.6ZM626.07 91.50h1.12V94.67h-1.12ZM626.88 93.80h0.6V105.38h-0.6ZM626.62 94.67h1.12V103.41h-1.12ZM627.43 99.91h0.6V105.22h-0.6ZM627.17 103.21h1.12V103.81h-1.12ZM627.98 100.80h0.6V105.29h-0.6ZM627.72 103.47h1.12V104.07h-1.12ZM628.53 102.55h0.6V108.06h-0.6ZM628.27 103.93h1.12V107.61h-1.12Z"/><path fill="#089981" d="M629.08 105.52h0.6V108.22h-0.6ZM628.82 106.13h1.12V107.61h-1.12Z"/><path fill="#f23645" d="M629.63 105.54h0.6V110.79h-0.6ZM629.37 106.13h1.12V108.68h-1.12ZM630.18 108.63h0.6V118.98h-0.6ZM629.92 108.68h1.12V117.57h-1.12ZM630.73 115.97h0.6V129.38h-0.6ZM630.47 117.57h1.12V120.51h-1.12Z"/><path fill="#089981" d="M631.28 117.46h0.6V122.14h-0.6ZM631.02 119.26h1.12V120.51h-1.12ZM631.83 117.12h0.6V119.81h-0.6ZM631.57 117.19h1.12V119.26h-1.12Z"/><path fill="#f23645" d="M632.38 115.56h0.6V118.22h-0.6ZM632.12 117.19h1.12V117.96h-1.12Z"/><path fill="#089981" d="M632.93 115.41h0.6V118.18h-0.6ZM632.67 116.25h1.12V117.96h-1.12ZM633.48 107.07h0.6V119.86h-0.6ZM633.22 110.47h1.12V116.25h-1.12ZM634.03 109.18h0.6V114.57h-0.6ZM633.77 109.22h1.12V110.47h-1.12Z"/><path fill="#f23645" d="M634.58 108.84h0.6V112.77h-0.6ZM634.32 109.19h1.12V109.79h-1.12Z"/><path fill="#089981" d="M635.12 103.87h0.6V112.11h-0.6ZM634.86 104.08h1.12V109.75h-1.12Z"/><path fill="#f23645" d="M635.67 102.98h0.6V111.02h-0.6ZM635.41 104.08h1.12V110.65h-1.12ZM636.22 110.47h0.6V123.03h-0.6ZM635.96 110.65h1.12V118.23h-1.12Z"/><path fill="#089981" d="M636.77 107.94h0.6V119.90h-0.6ZM636.51 109.03h1.12V118.23h-1.12ZM637.32 104.82h0.6V110.44h-0.6ZM637.06 105.15h1.12V109.03h-1.12Z"/><path fill="#f23645" d="M637.87 104.99h0.6V107.29h-0.6ZM637.61 105.15h1.12V106.74h-1.12ZM638.42 106.29h0.6V113.65h-0.6ZM638.16 106.74h1.12V112.56h-1.12ZM638.97 111.97h0.6V116.26h-0.6ZM638.71 112.56h1.12V113.79h-1.12Z"/><path fill="#089981" d="M639.52 108.98h0.6V113.94h-0.6ZM639.26 110.65h1.12V113.79h-1.12Z"/><path fill="#f23645" d="M640.07 110.06h0.6V112.10h-0.6ZM639.81 110.65h1.12V112.03h-1.12Z"/><path fill="#089981" d="M640.62 103.24h0.6V112.53h-0.6ZM640.36 106.55h1.12V112.03h-1.12ZM641.17 105.60h0.6V108.48h-0.6ZM640.91 105.65h1.12V106.55h-1.12Z"/><path fill="#f23645" d="M641.72 103.90h0.6V107.52h-0.6ZM641.46 105.65h1.12V106.90h-1.12ZM642.27 105.48h0.6V111.53h-0.6ZM642.01 106.90h1.12V110.83h-1.12Z"/><path fill="#089981" d="M642.82 107.36h0.6V111.05h-0.6ZM642.56 109.10h1.12V110.83h-1.12Z"/><path fill="#f23645" d="M643.37 108.98h0.6V116.31h-0.6ZM643.11 109.10h1.12V114.67h-1.12ZM643.92 114.03h0.6V118.65h-0.6ZM643.66 114.67h1.12V118.04h-1.12Z"/><path fill="#089981" d="M644.47 117.29h0.6V118.13h-0.6ZM644.21 117.57h1.12V118.17h-1.12Z"/><path fill="#f23645" d="M645.02 110.83h0.6V120.13h-0.6ZM644.76 117.70h1.12V118.61h-1.12ZM645.57 112.47h0.6V121.86h-0.6ZM645.31 118.61h1.12V119.75h-1.12Z"/><path fill="#089981" d="M646.12 115.55h0.6V120.13h-0.6ZM645.86 116.32h1.12V119.75h-1.12ZM646.67 113.36h0.6V118.60h-0.6ZM646.41 114.49h1.12V116.32h-1.12ZM647.22 108.84h0.6V117.52h-0.6ZM646.96 112.84h1.12V114.49h-1.12Z"/><path fill="#f23645" d="M647.77 110.47h0.6V116.11h-0.6ZM647.51 112.84h1.12V114.12h-1.12Z"/><path fill="#089981" d="M648.32 113.70h0.6V114.80h-0.6ZM648.06 113.73h1.12V114.33h-1.12Z"/><path fill="#f23645" d="M648.86 110.34h0.6V115.72h-0.6ZM648.60 113.95h1.12V115.69h-1.12ZM649.41 113.30h0.6V119.66h-0.6ZM649.15 115.69h1.12V118.91h-1.12Z"/><path fill="#089981" d="M649.96 114.11h0.6V120.61h-0.6ZM649.70 116.35h1.12V118.91h-1.12ZM650.51 113.54h0.6V118.62h-0.6ZM650.25 115.86h1.12V116.46h-1.12ZM651.06 112.70h0.6V116.57h-0.6ZM650.80 114.18h1.12V115.98h-1.12Z"/><path fill="#f23645" d="M651.61 110.65h0.6V119.13h-0.6ZM651.35 114.18h1.12V116.63h-1.12ZM652.16 116.09h0.6V117.18h-0.6ZM651.90 116.59h1.12V117.19h-1.12Z"/><path fill="#089981" d="M652.71 115.06h0.6V119.05h-0.6ZM652.45 115.97h1.12V117.15h-1.12ZM653.26 111.67h0.6V118.31h-0.6ZM653.00 115.15h1.12V115.97h-1.12ZM653.81 109.89h0.6V116.67h-0.6ZM653.55 111.47h1.12V115.15h-1.12ZM654.36 103.65h0.6V113.00h-0.6ZM654.10 106.28h1.12V111.47h-1.12Z"/><path fill="#f23645" d="M654.91 105.31h0.6V110.04h-0.6ZM654.65 106.28h1.12V108.68h-1.12Z"/><path fill="#089981" d="M655.46 102.89h0.6V109.66h-0.6ZM655.20 104.45h1.12V108.68h-1.12Z"/><path fill="#f23645" d="M656.01 103.42h0.6V112.41h-0.6ZM655.75 104.45h1.12V110.37h-1.12Z"/><path fill="#089981" d="M656.56 108.53h0.6V111.17h-0.6ZM656.30 109.03h1.12V110.37h-1.12ZM657.11 108.68h0.6V111.99h-0.6ZM656.85 108.70h1.12V109.30h-1.12Z"/><path fill="#f23645" d="M657.66 108.37h0.6V110.51h-0.6ZM657.40 108.96h1.12V110.47h-1.12Z"/><path fill="#089981" d="M658.21 104.94h0.6V110.60h-0.6ZM657.95 108.15h1.12V110.47h-1.12Z"/><path fill="#f23645" d="M658.76 107.03h0.6V110.78h-0.6ZM658.50 108.15h1.12V109.57h-1.12Z"/><path fill="#089981" d="M659.31 107.48h0.6V113.32h-0.6ZM659.05 107.81h1.12V109.57h-1.12ZM659.86 101.69h0.6V108.87h-0.6ZM659.60 101.86h1.12V107.81h-1.12ZM660.41 97.64h0.6V104.19h-0.6ZM660.15 99.15h1.12V101.86h-1.12Z"/><path fill="#f23645" d="M660.96 97.29h0.6V102.30h-0.6ZM660.70 99.15h1.12V101.61h-1.12Z"/><path fill="#089981" d="M661.51 98.36h0.6V104.60h-0.6ZM661.25 100.81h1.12V101.61h-1.12Z"/><path fill="#f23645" d="M662.06 99.68h0.6V102.98h-0.6ZM661.80 100.81h1.12V102.38h-1.12ZM662.60 101.97h0.6V106.79h-0.6ZM662.34 102.38h1.12V104.92h-1.12ZM663.15 104.92h0.6V107.90h-0.6ZM662.89 104.92h1.12V106.18h-1.12Z"/></g></g>
<path d="M0 106.3H685" stroke="#f23645" stroke-width="0.55" stroke-dasharray="0.9 1.1" stroke-opacity="0.72" fill="none"/>
<g id="flag" transform="translate(665,426.1)">
<path d="M-7.75 -0.3Q-7.45 2.0 -5.7 2.4Q-7.45 2.8 -7.75 5.1Q-8.05 2.8 -9.8 2.4Q-8.05 2.0 -7.75 -0.3Z" fill="#7c4dff"/>
<circle r="6.05" fill="#fff" stroke="#f23645" stroke-width="0.75"/>
<path d="M-3.3 5.07A6.05 6.05 0 0 1 -5.0 -3.4" stroke="#9c5be0" stroke-width="0.8" fill="none"/>
<clipPath id="fc"><circle r="4.25"/></clipPath>
<g clip-path="url(#fc)"><rect x="-5" y="-5" width="10" height="10" fill="#fff"/>
<path d="M-5 -2.7H5" stroke="#f23645" stroke-width="0.8"/><path d="M-5 0.1H5M-5 3.1H5" stroke="#f23645" stroke-width="1.35"/>
<rect x="-5" y="-5" width="5.9" height="6.5" fill="#3d8bff"/></g>
</g>
<path d="M-0.4 467.7L2.3 460H5.5L3 467.7Z" fill="#131722"/><path d="M-1 463h1.6v4.7H-1z" fill="#131722"/>
</svg>
<div class="sep" style="top:13.6px"></div>
<div class="sep" style="top:447.3px"></div>
<div class="h1">es30478 created with TradingView.com, Jan 19, 2026 15:19 UTC</div>
<div class="h2" id="nm" style="left:-6.1px;font-size:6.48px">Bitcoin / U.S. Dollar · 1D · Coinbase</div>
<div class="h2" style="left:101.3px">O<i>93,630.00</i></div><div class="h2" style="left:140.5px">H<i>93,630.00</i></div><div class="h2" style="left:180.4px">L<i>91,935.30</i></div><div class="h2" style="left:217.3px">C<i>92,912.01</i></div><div class="h2" style="left:255.5px;font-size:6.55px"><i>−721.52 (−0.77%)</i></div>
<div class="usd">USD</div>
<div class="pl" style="top:39.2px">140,000.00</div><div class="pl" style="top:57.7px">125,000.00</div><div class="pl" style="top:78.6px">110,000.00</div><div class="pl" style="top:97.5px">98,000.00</div><div class="pl" style="top:118.8px">86,000.00</div><div class="pl" style="top:143.3px">74,000.00</div><div class="pl" style="top:160.8px">66,500.00</div><div class="pl" style="top:180.3px">59,000.00</div><div class="pl" style="top:197.8px">53,000.00</div><div class="pl" style="top:217.4px">47,000.00</div><div class="pl" style="top:239.7px">41,000.00</div><div class="pl" style="top:256.5px">37,000.00</div><div class="pl" style="top:275.2px">33,000.00</div><div class="pl" style="top:296.2px">29,000.00</div><div class="pl" style="top:314.1px">26,000.00</div><div class="pl" style="top:334.1px">23,000.00</div><div class="pl" style="top:352.1px">20,600.00</div><div class="pl" style="top:368.7px">18,600.00</div><div class="pl" style="top:384.9px">16,850.00</div><div class="pl" style="top:401.2px">15,250.00</div><div class="pl" style="top:419.3px">13,650.00</div>
<div class="tl" style="left:17.7px">Nov</div><div class="tl b" style="left:51.2px">2023</div><div class="tl" style="left:83.6px">Mar</div><div class="tl" style="left:117.2px">May</div><div class="tl" style="left:150.7px">Jul</div><div class="tl" style="left:184.8px">Sep</div><div class="tl" style="left:218.3px">Nov</div><div class="tl b" style="left:251.8px">2024</div><div class="tl" style="left:284.8px">Mar</div><div class="tl" style="left:318.3px">May</div><div class="tl" style="left:351.8px">Jul</div><div class="tl" style="left:385.9px">Sep</div><div class="tl" style="left:419.4px">Nov</div><div class="tl b" style="left:453.0px">2025</div><div class="tl" style="left:485.4px">Mar</div><div class="tl" style="left:518.9px">May</div><div class="tl" style="left:552.4px">Jul</div><div class="tl" style="left:586.5px">Sep</div><div class="tl" style="left:620.0px">Nov</div><div class="tl b" style="left:653.6px">2026</div><div class="tl" style="left:686.0px">Mar</div>
<div class="sym">BTCUSD</div>
<div class="cur">92,912.01<small>08:40:59</small></div>
<div class="logo">TradingView</div>
</div></body></html>
